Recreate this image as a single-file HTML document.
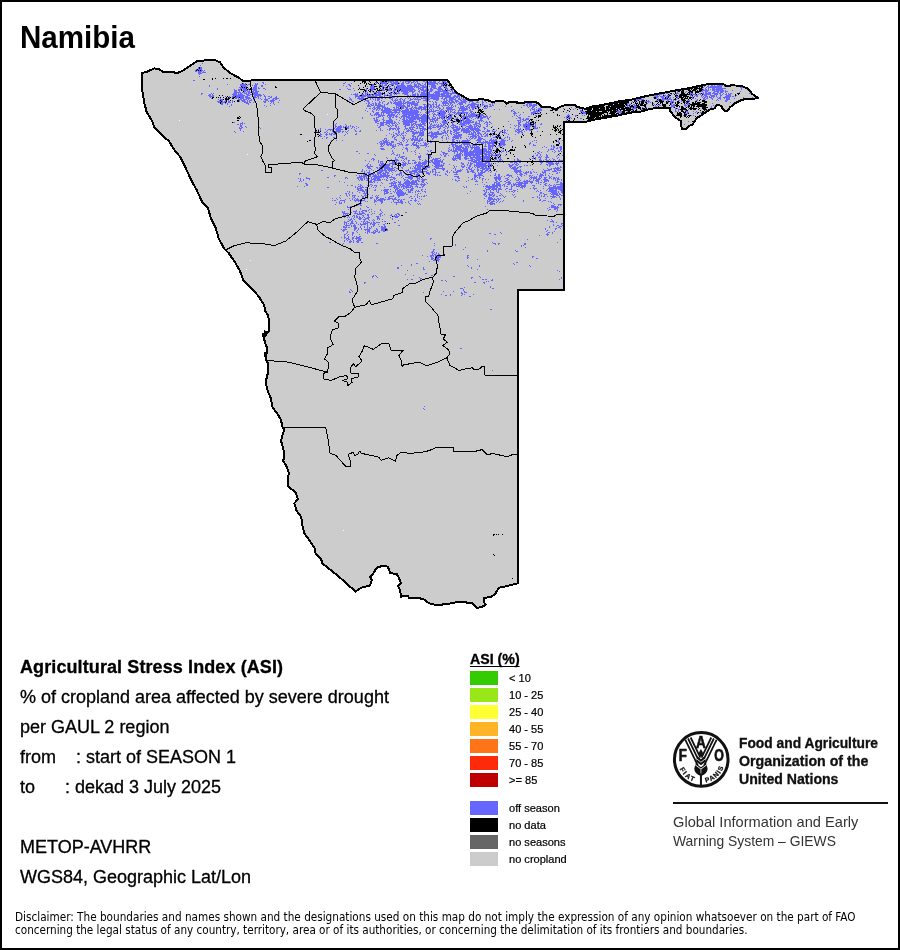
<!DOCTYPE html>
<html lang="en">
<head>
<meta charset="utf-8">
<title>Namibia - Agricultural Stress Index (ASI)</title>
<style>
html,body{margin:0;padding:0;background:#fff}
body{width:900px;height:950px;overflow:hidden;font-family:"Liberation Sans",Arial,sans-serif;color:#000}
#page{position:relative;width:900px;height:950px;box-sizing:border-box;border:2px solid #000;background:#fff;overflow:hidden}
#art{position:absolute;left:-2px;top:-2px;width:900px;height:950px}
.t{position:absolute;white-space:pre;line-height:1;transform-origin:0 0;margin:0;padding:0}
.t{margin-left:-2px;margin-top:-2px}
h1.t{font-size:30px;font-weight:bold;left:20px;top:21.7px;transform:scale(0.985,1.04)}
.info{font-size:18px;left:20px;-webkit-text-stroke:0.3px #000}
.b{font-weight:bold}
.lab{font-size:10.2px;transform:scaleX(1.085);-webkit-text-stroke:0.2px #000}
.lh{font-size:14.2px;font-weight:bold;text-decoration:underline;text-decoration-thickness:1px;text-underline-offset:1.6px;text-decoration-skip-ink:none;-webkit-text-stroke:0.3px #000;left:470px;top:652px}
.fao{font-size:15.15px;font-weight:bold;left:739.2px;color:#111;-webkit-text-stroke:0.35px #111}
.giews{font-size:15px;left:672.5px;color:#333;transform:scaleX(0.975)}
.disc{font-family:"DejaVu Sans Condensed","DejaVu Sans","Liberation Sans",sans-serif;font-stretch:condensed;font-size:11.8px;left:15px;color:#000;transform:scaleX(0.988)}
</style>
</head>
<body>
<div id="page">
<svg id="art" width="900" height="950" viewBox="0 0 900 950">
<g shape-rendering="crispEdges">
<path d="M141.6 73.3 L146.7 71.8 L154.4 68.4 L158.9 68.9 L163.3 72.2 L172.2 71.6 L176.7 73.3 L183.3 70.4 L191.1 65.1 L197.8 60.7 L207.8 60.4 L215.6 60.4 L220 62.2 L223.3 67.3 L230 72.9 L238.9 77.8 L243.3 81.1 L248.9 81.1 L254.4 79.6 L447 79.6 L450 83.5 L452.7 88 L456.7 92.7 L461.3 95.3 L465.3 97.7 L468.7 99.7 L478 99.7 L479.3 98.7 L481.3 99 L487.3 100 L491.3 101.7 L499.3 101.3 L503.3 101 L506.7 103.7 L510 101.7 L516.7 102 L517.3 103 L523.3 103.3 L526 101.7 L534.7 101.7 L538.7 103.7 L542 106.7 L549.3 107 L552.7 108 L556 109.7 L558 108 L562.7 105.7 L567.3 105 L570 105 L574.7 105 L576.7 106.7 L582 108.3 L586 108.7 L591.3 106.7 L600.7 105.3 L611.3 103 L620.7 101 L630 100 L646.7 96 L662 93 L676.7 90.3 L690 88 L698.3 86 L709.2 83.9 L723.3 83.9 L726.7 86.4 L731.7 85.2 L741.7 86 L748.3 88.9 L752.5 94.2 L757.3 97.2 L758.3 97.8 L753.3 99 L745 99 L740 100.7 L735 103.2 L730 107.3 L727.5 110.7 L724.2 110.7 L720.8 105.7 L716.7 104.8 L715 108.2 L709.2 109.8 L703.3 114 L696.7 118.2 L692.5 124.8 L690 125.5 L686 129 L681.7 129 L681 121.3 L674.3 116.6 L670.3 111 L669.7 108 L668 107.7 L658 107.7 L650 109 L640 111.7 L630 112.7 L618.7 115.3 L608 117.3 L602.7 118.3 L592 120 L586.7 121.7 L564 121.9 L564 290 L518.2 290 L518 583.3 L511.1 584.9 L504.4 586.7 L498.9 587.8 L495.6 593.3 L491.1 597.1 L484.4 597.8 L484 602.2 L485.6 604.9 L481.1 607.3 L476.7 607.8 L472.2 603.3 L464.4 602.2 L457.8 601.8 L451.1 603.3 L444.4 604.4 L435.6 604.9 L428.9 603.3 L424.4 599.6 L417.8 597.8 L408.9 597.8 L407.8 595.6 L401.1 596.7 L400 590 L397.8 585.6 L401.1 583.3 L398.9 577.8 L396.7 573.8 L390.4 573.3 L387.8 566.7 L383.3 565.6 L376.7 567.8 L373.3 573.3 L370 576.7 L371.8 580 L370 585.6 L361.1 587.8 L355.6 591.6 L338.9 576.7 L322.2 563.3 L321.1 558.9 L315.6 553.3 L314.4 547.8 L310 541.1 L304.4 533.3 L302.7 526.7 L301.1 516.7 L296.7 511.1 L294.4 503.3 L297.8 498.9 L295.6 492.2 L288.2 486.7 L287.8 478.9 L288.9 473.3 L286.7 466.7 L283.3 461.1 L284.4 453.3 L283.3 448.9 L281.1 441.1 L282.2 435.6 L284.4 430 L282.2 426.7 L281.1 420 L277.8 414.4 L272.2 406.7 L271.1 398.9 L267.8 391.1 L265.6 382.2 L267.8 373.3 L268 363.3 L266.3 360 L266 356 L267 352.7 L267 347.3 L266 346 L264 338.7 L264.5 335.5 L268.6 331.3 L269 320 L268 315.3 L264.7 310 L264.4 305.6 L258.9 296.7 L251.1 287.8 L243.3 280 L240 271.1 L235.6 263.3 L228.9 253.3 L224.4 248.9 L218.9 238.9 L215.6 227.8 L211.1 218.9 L207.8 207.8 L202.2 202.2 L196.7 190 L191.1 180 L185.6 167.8 L180 156.7 L174.4 150 L168.9 141.1 L161.1 134.4 L154.4 127.8 L152.2 121.1 L146.7 112.2 L144.4 103.3 L142.2 90Z" fill="#cccccc" stroke="none"/>
<path d="M202 63.5h1M200 65.5h1M198 67.5h1M200 67.5h2M198 68.5h1M200 68.5h2M196 69.5h1M198 69.5h4M195 70.5h1M197 70.5h1M199 70.5h1M201 70.5h2M204 70.5h1M195 71.5h2M198 71.5h4M203 71.5h1M198 72.5h3M202 72.5h4M198 73.5h4M199 74.5h1M199 76.5h1M377 79.5h1M383 79.5h3M389 79.5h1M400 79.5h1M407 79.5h1M446 79.5h1M193 80.5h2M364 80.5h1M367 80.5h1M377 80.5h1M381 80.5h6M388 80.5h2M391 80.5h1M394 80.5h2M400 80.5h1M406 80.5h1M408 80.5h1M413 80.5h1M416 80.5h3M425 80.5h4M432 80.5h1M447 80.5h1M380 81.5h2M384 81.5h1M387 81.5h7M395 81.5h3M400 81.5h1M403 81.5h1M405 81.5h6M413 81.5h2M416 81.5h2M423 81.5h2M426 81.5h2M429 81.5h3M433 81.5h3M439 81.5h1M442 81.5h4M250 82.5h1M262 82.5h2M345 82.5h1M375 82.5h2M380 82.5h7M388 82.5h1M390 82.5h2M393 82.5h6M402 82.5h2M405 82.5h1M408 82.5h2M411 82.5h3M415 82.5h1M417 82.5h1M425 82.5h11M438 82.5h1M442 82.5h1M444 82.5h4M243 83.5h1M245 83.5h1M250 83.5h1M255 83.5h1M257 83.5h1M263 83.5h1M343 83.5h2M351 83.5h1M376 83.5h1M381 83.5h6M391 83.5h7M399 83.5h1M401 83.5h3M406 83.5h3M411 83.5h1M414 83.5h1M417 83.5h3M422 83.5h1M425 83.5h1M428 83.5h10M439 83.5h4M444 83.5h1M446 83.5h1M450 83.5h1M712 83.5h1M227 84.5h1M240 84.5h6M248 84.5h3M255 84.5h3M265 84.5h1M348 84.5h2M372 84.5h2M379 84.5h2M382 84.5h1M385 84.5h2M389 84.5h5M395 84.5h3M401 84.5h3M410 84.5h1M414 84.5h3M418 84.5h3M424 84.5h2M428 84.5h7M437 84.5h1M441 84.5h3M445 84.5h1M447 84.5h1M705 84.5h2M708 84.5h5M717 84.5h2M720 84.5h1M209 85.5h1M240 85.5h6M247 85.5h1M252 85.5h1M254 85.5h3M261 85.5h2M343 85.5h1M349 85.5h2M372 85.5h2M379 85.5h1M381 85.5h2M384 85.5h3M391 85.5h1M393 85.5h1M397 85.5h8M407 85.5h5M414 85.5h3M418 85.5h1M420 85.5h4M425 85.5h1M431 85.5h5M441 85.5h2M444 85.5h1M450 85.5h2M704 85.5h1M708 85.5h1M711 85.5h2M714 85.5h1M717 85.5h6M209 86.5h1M242 86.5h5M254 86.5h3M261 86.5h2M346 86.5h1M350 86.5h1M367 86.5h1M370 86.5h4M382 86.5h2M388 86.5h3M394 86.5h1M396 86.5h10M407 86.5h13M422 86.5h5M429 86.5h1M431 86.5h5M439 86.5h3M443 86.5h1M445 86.5h2M449 86.5h1M704 86.5h1M707 86.5h2M710 86.5h12M724 86.5h1M239 87.5h3M243 87.5h1M245 87.5h1M253 87.5h4M258 87.5h1M359 87.5h1M370 87.5h5M382 87.5h1M384 87.5h2M389 87.5h1M394 87.5h1M397 87.5h16M414 87.5h1M416 87.5h3M420 87.5h7M431 87.5h5M438 87.5h3M445 87.5h2M703 87.5h1M706 87.5h1M708 87.5h14M740 87.5h5M217 88.5h1M240 88.5h6M248 88.5h1M251 88.5h1M253 88.5h4M258 88.5h2M263 88.5h2M347 88.5h1M353 88.5h1M366 88.5h1M370 88.5h5M382 88.5h1M385 88.5h3M389 88.5h1M391 88.5h2M394 88.5h20M418 88.5h3M422 88.5h2M426 88.5h1M430 88.5h2M433 88.5h4M438 88.5h4M445 88.5h3M451 88.5h2M702 88.5h1M705 88.5h1M708 88.5h1M712 88.5h3M716 88.5h10M741 88.5h1M217 89.5h1M234 89.5h1M238 89.5h3M243 89.5h4M248 89.5h1M252 89.5h5M265 89.5h1M339 89.5h2M348 89.5h3M366 89.5h1M369 89.5h1M371 89.5h3M381 89.5h3M388 89.5h3M394 89.5h1M396 89.5h4M401 89.5h14M418 89.5h1M420 89.5h4M425 89.5h4M430 89.5h3M437 89.5h6M447 89.5h1M450 89.5h1M452 89.5h2M703 89.5h1M705 89.5h2M708 89.5h1M710 89.5h1M712 89.5h11M741 89.5h1M234 90.5h3M238 90.5h2M242 90.5h6M249 90.5h1M253 90.5h4M354 90.5h1M366 90.5h1M371 90.5h2M382 90.5h3M386 90.5h1M388 90.5h4M393 90.5h3M398 90.5h1M400 90.5h13M414 90.5h2M419 90.5h1M421 90.5h8M430 90.5h3M438 90.5h3M442 90.5h4M447 90.5h3M451 90.5h2M454 90.5h1M681 90.5h1M702 90.5h7M712 90.5h3M716 90.5h8M725 90.5h1M732 90.5h1M234 91.5h3M239 91.5h1M244 91.5h2M247 91.5h3M251 91.5h3M255 91.5h4M366 91.5h1M372 91.5h1M378 91.5h2M393 91.5h2M398 91.5h2M401 91.5h7M409 91.5h6M418 91.5h2M423 91.5h5M429 91.5h3M435 91.5h13M450 91.5h1M452 91.5h1M454 91.5h1M671 91.5h3M677 91.5h1M686 91.5h1M701 91.5h2M705 91.5h3M714 91.5h5M720 91.5h4M725 91.5h3M740 91.5h1M234 92.5h7M242 92.5h3M246 92.5h1M248 92.5h3M252 92.5h6M363 92.5h1M365 92.5h1M367 92.5h1M370 92.5h1M373 92.5h8M382 92.5h1M388 92.5h1M390 92.5h1M392 92.5h1M395 92.5h2M398 92.5h1M403 92.5h6M412 92.5h2M419 92.5h1M421 92.5h4M426 92.5h4M434 92.5h6M443 92.5h6M452 92.5h4M667 92.5h3M677 92.5h1M685 92.5h1M690 92.5h1M703 92.5h1M705 92.5h2M708 92.5h3M713 92.5h2M717 92.5h2M720 92.5h3M725 92.5h1M739 92.5h1M201 93.5h2M211 93.5h1M213 93.5h1M233 93.5h4M238 93.5h1M240 93.5h2M244 93.5h3M248 93.5h2M252 93.5h6M355 93.5h1M357 93.5h1M365 93.5h3M376 93.5h1M378 93.5h4M390 93.5h2M393 93.5h2M396 93.5h4M402 93.5h6M412 93.5h1M415 93.5h1M417 93.5h1M421 93.5h9M433 93.5h1M435 93.5h5M441 93.5h18M666 93.5h2M673 93.5h1M676 93.5h3M690 93.5h3M699 93.5h2M702 93.5h2M705 93.5h6M712 93.5h6M719 93.5h2M723 93.5h1M726 93.5h1M728 93.5h1M730 93.5h2M749 93.5h2M201 94.5h1M209 94.5h2M212 94.5h1M232 94.5h5M238 94.5h5M246 94.5h3M250 94.5h2M253 94.5h8M263 94.5h1M351 94.5h1M353 94.5h5M361 94.5h3M365 94.5h1M368 94.5h1M370 94.5h2M373 94.5h9M384 94.5h1M387 94.5h1M390 94.5h2M394 94.5h1M396 94.5h1M404 94.5h4M412 94.5h4M417 94.5h2M420 94.5h25M446 94.5h3M450 94.5h2M457 94.5h1M459 94.5h1M657 94.5h5M663 94.5h1M669 94.5h1M671 94.5h1M676 94.5h1M679 94.5h1M690 94.5h1M692 94.5h4M698 94.5h1M700 94.5h1M703 94.5h8M714 94.5h4M720 94.5h1M722 94.5h1M725 94.5h2M728 94.5h3M208 95.5h3M212 95.5h2M233 95.5h12M247 95.5h3M252 95.5h1M254 95.5h8M264 95.5h1M355 95.5h3M359 95.5h1M362 95.5h9M372 95.5h2M375 95.5h6M384 95.5h3M388 95.5h4M407 95.5h2M410 95.5h1M412 95.5h4M417 95.5h2M420 95.5h20M441 95.5h10M454 95.5h2M457 95.5h5M652 95.5h1M654 95.5h4M659 95.5h1M664 95.5h2M667 95.5h2M690 95.5h2M695 95.5h3M701 95.5h2M704 95.5h3M710 95.5h5M716 95.5h1M720 95.5h2M726 95.5h5M736 95.5h1M209 96.5h5M225 96.5h1M229 96.5h1M232 96.5h3M236 96.5h8M245 96.5h3M252 96.5h4M257 96.5h2M260 96.5h1M264 96.5h2M268 96.5h2M271 96.5h1M276 96.5h1M355 96.5h11M367 96.5h10M379 96.5h4M384 96.5h1M389 96.5h4M394 96.5h1M404 96.5h4M415 96.5h6M422 96.5h29M453 96.5h7M463 96.5h1M654 96.5h5M660 96.5h5M666 96.5h2M669 96.5h1M676 96.5h3M690 96.5h1M692 96.5h1M694 96.5h1M696 96.5h2M701 96.5h1M703 96.5h1M705 96.5h3M709 96.5h1M711 96.5h4M716 96.5h1M720 96.5h1M725 96.5h6M732 96.5h2M735 96.5h1M210 97.5h1M229 97.5h1M232 97.5h1M235 97.5h4M240 97.5h4M245 97.5h5M254 97.5h3M258 97.5h1M265 97.5h1M270 97.5h2M275 97.5h2M349 97.5h1M355 97.5h1M358 97.5h2M361 97.5h3M367 97.5h1M370 97.5h4M375 97.5h5M383 97.5h2M387 97.5h4M392 97.5h3M397 97.5h1M407 97.5h1M409 97.5h1M414 97.5h1M416 97.5h6M423 97.5h7M431 97.5h8M442 97.5h1M445 97.5h10M456 97.5h2M459 97.5h1M461 97.5h1M463 97.5h3M653 97.5h1M656 97.5h2M661 97.5h3M666 97.5h2M670 97.5h1M673 97.5h1M677 97.5h1M692 97.5h1M702 97.5h1M704 97.5h2M707 97.5h1M709 97.5h3M713 97.5h1M717 97.5h1M719 97.5h2M723 97.5h7M743 97.5h1M752 97.5h1M211 98.5h1M220 98.5h1M227 98.5h1M235 98.5h2M238 98.5h1M240 98.5h4M246 98.5h5M253 98.5h2M258 98.5h1M260 98.5h1M265 98.5h1M268 98.5h2M273 98.5h6M350 98.5h1M357 98.5h9M370 98.5h1M372 98.5h1M375 98.5h1M377 98.5h3M381 98.5h2M385 98.5h1M389 98.5h2M392 98.5h1M396 98.5h1M400 98.5h2M405 98.5h1M408 98.5h1M410 98.5h1M413 98.5h1M415 98.5h1M417 98.5h1M421 98.5h8M430 98.5h9M441 98.5h2M444 98.5h3M449 98.5h5M455 98.5h1M458 98.5h2M461 98.5h1M463 98.5h1M465 98.5h1M638 98.5h1M640 98.5h2M656 98.5h1M658 98.5h1M662 98.5h3M666 98.5h1M669 98.5h2M677 98.5h1M692 98.5h2M695 98.5h1M703 98.5h2M706 98.5h2M711 98.5h2M718 98.5h3M724 98.5h1M726 98.5h4M734 98.5h1M751 98.5h1M218 99.5h1M220 99.5h3M238 99.5h4M243 99.5h4M248 99.5h1M251 99.5h1M253 99.5h2M261 99.5h1M264 99.5h4M272 99.5h2M275 99.5h2M349 99.5h3M359 99.5h4M364 99.5h1M370 99.5h1M373 99.5h1M375 99.5h1M377 99.5h3M391 99.5h2M395 99.5h1M397 99.5h1M399 99.5h2M402 99.5h1M404 99.5h1M410 99.5h3M414 99.5h7M425 99.5h5M433 99.5h6M443 99.5h2M446 99.5h1M449 99.5h7M458 99.5h3M462 99.5h5M470 99.5h1M475 99.5h1M478 99.5h2M635 99.5h9M658 99.5h1M661 99.5h11M673 99.5h1M676 99.5h1M697 99.5h1M703 99.5h3M712 99.5h1M717 99.5h1M720 99.5h1M726 99.5h4M219 100.5h1M221 100.5h2M225 100.5h1M228 100.5h1M232 100.5h1M239 100.5h1M241 100.5h4M247 100.5h1M249 100.5h3M265 100.5h3M270 100.5h5M279 100.5h1M351 100.5h1M365 100.5h4M375 100.5h1M377 100.5h2M381 100.5h1M392 100.5h1M394 100.5h4M400 100.5h1M403 100.5h2M409 100.5h2M418 100.5h1M423 100.5h6M436 100.5h2M444 100.5h1M446 100.5h2M449 100.5h4M455 100.5h3M460 100.5h2M463 100.5h3M467 100.5h2M471 100.5h1M473 100.5h1M482 100.5h1M487 100.5h1M631 100.5h1M636 100.5h2M641 100.5h1M648 100.5h1M656 100.5h3M662 100.5h2M667 100.5h2M671 100.5h1M673 100.5h1M675 100.5h1M678 100.5h2M681 100.5h1M687 100.5h3M696 100.5h2M716 100.5h1M718 100.5h1M725 100.5h3M217 101.5h4M222 101.5h1M224 101.5h2M228 101.5h2M232 101.5h1M239 101.5h1M242 101.5h4M247 101.5h1M249 101.5h1M254 101.5h2M263 101.5h3M268 101.5h1M270 101.5h4M349 101.5h1M352 101.5h2M358 101.5h1M364 101.5h1M367 101.5h2M372 101.5h1M379 101.5h1M383 101.5h2M390 101.5h1M393 101.5h1M395 101.5h1M398 101.5h4M403 101.5h2M407 101.5h2M412 101.5h3M416 101.5h1M418 101.5h1M426 101.5h2M429 101.5h2M432 101.5h1M435 101.5h1M441 101.5h1M443 101.5h4M448 101.5h2M451 101.5h3M455 101.5h4M461 101.5h6M469 101.5h4M477 101.5h1M482 101.5h1M485 101.5h1M632 101.5h1M635 101.5h1M640 101.5h1M644 101.5h6M667 101.5h1M670 101.5h4M681 101.5h1M689 101.5h1M725 101.5h2M218 102.5h2M221 102.5h4M226 102.5h1M228 102.5h3M232 102.5h1M244 102.5h4M249 102.5h2M253 102.5h1M264 102.5h2M271 102.5h1M273 102.5h1M278 102.5h1M349 102.5h1M368 102.5h2M375 102.5h1M379 102.5h2M382 102.5h1M388 102.5h1M390 102.5h2M394 102.5h8M403 102.5h1M405 102.5h10M417 102.5h2M427 102.5h1M433 102.5h1M435 102.5h2M442 102.5h6M449 102.5h6M456 102.5h1M459 102.5h7M469 102.5h1M472 102.5h2M476 102.5h3M482 102.5h2M486 102.5h1M526 102.5h1M530 102.5h7M631 102.5h1M637 102.5h1M648 102.5h1M650 102.5h1M668 102.5h1M670 102.5h2M673 102.5h1M685 102.5h2M688 102.5h1M730 102.5h1M221 103.5h2M225 103.5h1M227 103.5h1M246 103.5h3M270 103.5h1M273 103.5h1M351 103.5h1M366 103.5h1M368 103.5h2M372 103.5h2M375 103.5h2M378 103.5h2M382 103.5h1M387 103.5h2M391 103.5h1M393 103.5h13M407 103.5h11M427 103.5h2M433 103.5h1M436 103.5h1M442 103.5h7M450 103.5h2M454 103.5h1M458 103.5h5M465 103.5h1M471 103.5h5M482 103.5h1M492 103.5h1M494 103.5h1M527 103.5h5M536 103.5h2M627 103.5h2M640 103.5h1M647 103.5h1M653 103.5h1M671 103.5h2M687 103.5h2M712 103.5h1M221 104.5h2M227 104.5h1M231 104.5h1M248 104.5h1M274 104.5h1M368 104.5h1M370 104.5h2M373 104.5h1M375 104.5h2M378 104.5h3M384 104.5h1M386 104.5h2M395 104.5h7M403 104.5h1M407 104.5h1M409 104.5h1M411 104.5h7M423 104.5h3M428 104.5h3M432 104.5h2M435 104.5h2M439 104.5h1M443 104.5h1M445 104.5h1M448 104.5h1M450 104.5h1M452 104.5h1M457 104.5h1M459 104.5h4M468 104.5h11M482 104.5h2M489 104.5h2M492 104.5h1M526 104.5h2M529 104.5h3M533 104.5h4M627 104.5h1M629 104.5h2M633 104.5h2M639 104.5h1M646 104.5h1M654 104.5h1M659 104.5h1M671 104.5h1M673 104.5h2M684 104.5h2M687 104.5h3M231 105.5h1M264 105.5h1M270 105.5h1M367 105.5h3M371 105.5h3M375 105.5h8M384 105.5h1M396 105.5h9M407 105.5h3M411 105.5h1M414 105.5h4M424 105.5h1M426 105.5h1M428 105.5h1M430 105.5h2M433 105.5h1M436 105.5h1M438 105.5h2M441 105.5h1M443 105.5h5M449 105.5h1M451 105.5h2M455 105.5h1M460 105.5h1M463 105.5h1M467 105.5h2M470 105.5h5M477 105.5h2M480 105.5h1M482 105.5h1M484 105.5h4M490 105.5h1M492 105.5h2M523 105.5h2M526 105.5h2M529 105.5h8M570 105.5h1M627 105.5h2M634 105.5h2M652 105.5h1M655 105.5h1M657 105.5h1M659 105.5h2M671 105.5h4M684 105.5h3M713 105.5h1M229 106.5h1M266 106.5h1M367 106.5h4M374 106.5h1M377 106.5h8M396 106.5h1M398 106.5h8M407 106.5h3M412 106.5h1M415 106.5h1M419 106.5h3M424 106.5h5M430 106.5h2M433 106.5h2M436 106.5h3M442 106.5h1M448 106.5h1M451 106.5h1M453 106.5h1M455 106.5h1M460 106.5h4M465 106.5h3M469 106.5h1M471 106.5h6M478 106.5h1M480 106.5h1M485 106.5h3M489 106.5h3M505 106.5h1M511 106.5h1M527 106.5h1M529 106.5h2M532 106.5h3M541 106.5h2M576 106.5h1M625 106.5h1M627 106.5h1M629 106.5h1M634 106.5h3M655 106.5h2M671 106.5h4M685 106.5h1M687 106.5h1M711 106.5h1M714 106.5h1M373 107.5h2M376 107.5h4M382 107.5h4M387 107.5h1M393 107.5h2M396 107.5h3M401 107.5h3M405 107.5h3M411 107.5h2M414 107.5h3M418 107.5h10M429 107.5h3M433 107.5h1M435 107.5h2M438 107.5h2M443 107.5h1M446 107.5h7M458 107.5h1M460 107.5h5M466 107.5h1M468 107.5h2M471 107.5h5M477 107.5h1M479 107.5h1M483 107.5h1M485 107.5h1M487 107.5h1M521 107.5h1M528 107.5h1M532 107.5h2M536 107.5h1M540 107.5h2M560 107.5h1M571 107.5h1M629 107.5h1M631 107.5h2M634 107.5h2M642 107.5h1M646 107.5h1M654 107.5h2M664 107.5h3M671 107.5h1M673 107.5h1M679 107.5h1M711 107.5h1M366 108.5h1M369 108.5h2M372 108.5h1M374 108.5h2M377 108.5h4M382 108.5h1M384 108.5h6M394 108.5h1M396 108.5h1M398 108.5h2M401 108.5h3M406 108.5h2M409 108.5h3M413 108.5h1M415 108.5h7M423 108.5h3M427 108.5h1M429 108.5h1M432 108.5h1M437 108.5h1M439 108.5h2M443 108.5h1M446 108.5h6M459 108.5h9M469 108.5h1M472 108.5h2M476 108.5h1M484 108.5h3M531 108.5h2M534 108.5h1M538 108.5h3M563 108.5h1M575 108.5h1M587 108.5h1M632 108.5h5M645 108.5h1M653 108.5h1M670 108.5h1M675 108.5h1M677 108.5h1M373 109.5h2M376 109.5h2M379 109.5h1M381 109.5h2M384 109.5h8M393 109.5h7M401 109.5h1M405 109.5h4M410 109.5h3M414 109.5h1M416 109.5h1M418 109.5h2M421 109.5h6M428 109.5h1M430 109.5h2M433 109.5h1M439 109.5h1M441 109.5h2M447 109.5h8M459 109.5h1M461 109.5h7M470 109.5h1M472 109.5h2M478 109.5h1M494 109.5h1M499 109.5h1M513 109.5h1M530 109.5h1M532 109.5h3M536 109.5h1M538 109.5h4M556 109.5h1M573 109.5h1M633 109.5h1M641 109.5h2M670 109.5h1M675 109.5h1M678 109.5h2M688 109.5h1M365 110.5h1M372 110.5h1M376 110.5h1M378 110.5h1M381 110.5h10M392 110.5h9M402 110.5h7M410 110.5h8M421 110.5h1M425 110.5h1M427 110.5h1M429 110.5h1M431 110.5h1M433 110.5h1M435 110.5h4M440 110.5h2M443 110.5h1M445 110.5h4M450 110.5h1M452 110.5h1M455 110.5h1M458 110.5h8M469 110.5h2M511 110.5h2M530 110.5h1M534 110.5h1M536 110.5h2M539 110.5h3M555 110.5h1M557 110.5h1M568 110.5h1M580 110.5h2M616 110.5h1M618 110.5h1M632 110.5h1M675 110.5h1M678 110.5h1M685 110.5h1M367 111.5h1M372 111.5h2M382 111.5h10M394 111.5h3M399 111.5h1M401 111.5h18M426 111.5h10M439 111.5h6M448 111.5h1M450 111.5h2M454 111.5h1M458 111.5h1M462 111.5h2M470 111.5h3M511 111.5h1M513 111.5h2M533 111.5h7M580 111.5h4M617 111.5h5M627 111.5h1M633 111.5h1M675 111.5h2M678 111.5h1M686 111.5h2M693 111.5h1M696 111.5h1M373 112.5h1M376 112.5h3M381 112.5h19M402 112.5h17M420 112.5h1M425 112.5h5M433 112.5h1M437 112.5h9M448 112.5h1M450 112.5h1M452 112.5h4M457 112.5h11M470 112.5h2M473 112.5h1M514 112.5h2M518 112.5h1M523 112.5h1M531 112.5h5M537 112.5h1M566 112.5h1M582 112.5h4M617 112.5h5M687 112.5h2M695 112.5h1M697 112.5h1M700 112.5h2M704 112.5h1M370 113.5h1M375 113.5h4M381 113.5h1M383 113.5h1M386 113.5h4M391 113.5h2M395 113.5h1M398 113.5h1M402 113.5h16M426 113.5h1M428 113.5h1M432 113.5h1M434 113.5h1M438 113.5h1M440 113.5h6M449 113.5h1M454 113.5h1M456 113.5h5M462 113.5h3M466 113.5h2M469 113.5h1M471 113.5h4M513 113.5h4M531 113.5h4M537 113.5h1M539 113.5h2M580 113.5h2M583 113.5h3M620 113.5h1M685 113.5h3M693 113.5h1M370 114.5h1M374 114.5h6M381 114.5h1M383 114.5h1M388 114.5h7M397 114.5h1M399 114.5h1M403 114.5h17M421 114.5h1M423 114.5h3M429 114.5h1M433 114.5h3M437 114.5h8M448 114.5h5M455 114.5h2M458 114.5h2M466 114.5h1M468 114.5h1M470 114.5h9M480 114.5h3M514 114.5h1M520 114.5h1M531 114.5h1M568 114.5h1M703 114.5h1M371 115.5h2M374 115.5h1M376 115.5h1M378 115.5h7M387 115.5h8M396 115.5h1M402 115.5h5M408 115.5h6M415 115.5h4M420 115.5h1M422 115.5h7M433 115.5h1M436 115.5h1M438 115.5h7M446 115.5h1M449 115.5h1M451 115.5h1M461 115.5h1M463 115.5h2M466 115.5h1M468 115.5h8M477 115.5h2M480 115.5h4M486 115.5h1M514 115.5h1M516 115.5h1M519 115.5h1M535 115.5h2M567 115.5h3M575 115.5h2M582 115.5h1M584 115.5h1M683 115.5h1M686 115.5h1M691 115.5h1M693 115.5h1M378 116.5h3M382 116.5h1M387 116.5h1M389 116.5h3M393 116.5h1M395 116.5h3M401 116.5h9M411 116.5h8M421 116.5h8M433 116.5h2M439 116.5h1M441 116.5h6M449 116.5h3M461 116.5h17M480 116.5h2M483 116.5h5M490 116.5h1M512 116.5h1M517 116.5h1M528 116.5h2M566 116.5h2M569 116.5h1M575 116.5h1M362 117.5h1M376 117.5h3M383 117.5h1M388 117.5h3M392 117.5h2M396 117.5h1M399 117.5h1M401 117.5h1M403 117.5h2M406 117.5h24M432 117.5h1M435 117.5h1M437 117.5h1M439 117.5h5M446 117.5h1M448 117.5h5M455 117.5h1M457 117.5h1M463 117.5h2M466 117.5h2M469 117.5h2M472 117.5h1M476 117.5h2M479 117.5h7M487 117.5h1M489 117.5h1M518 117.5h3M564 117.5h1M566 117.5h1M568 117.5h3M362 118.5h1M373 118.5h2M376 118.5h1M383 118.5h1M389 118.5h2M400 118.5h1M403 118.5h2M406 118.5h1M408 118.5h22M432 118.5h4M437 118.5h3M441 118.5h4M446 118.5h1M448 118.5h4M456 118.5h2M460 118.5h1M462 118.5h2M466 118.5h3M471 118.5h1M475 118.5h1M477 118.5h2M480 118.5h3M487 118.5h2M516 118.5h1M519 118.5h2M523 118.5h1M526 118.5h3M566 118.5h1M568 118.5h1M571 118.5h1M580 118.5h2M374 119.5h1M376 119.5h2M382 119.5h2M389 119.5h3M396 119.5h1M402 119.5h3M406 119.5h2M409 119.5h7M417 119.5h3M421 119.5h6M429 119.5h6M436 119.5h2M442 119.5h1M444 119.5h1M447 119.5h3M454 119.5h2M460 119.5h1M462 119.5h3M466 119.5h4M473 119.5h1M480 119.5h2M488 119.5h1M520 119.5h1M522 119.5h2M525 119.5h4M569 119.5h1M374 120.5h4M379 120.5h1M383 120.5h2M386 120.5h7M399 120.5h1M403 120.5h11M419 120.5h9M430 120.5h1M432 120.5h1M434 120.5h4M443 120.5h2M447 120.5h1M450 120.5h1M460 120.5h1M462 120.5h2M465 120.5h7M478 120.5h5M517 120.5h4M523 120.5h3M536 120.5h1M566 120.5h1M375 121.5h4M383 121.5h1M386 121.5h7M394 121.5h1M402 121.5h15M419 121.5h1M421 121.5h7M430 121.5h4M435 121.5h1M442 121.5h5M452 121.5h1M455 121.5h2M460 121.5h2M463 121.5h8M472 121.5h2M476 121.5h1M479 121.5h1M481 121.5h1M483 121.5h1M486 121.5h1M489 121.5h1M508 121.5h1M518 121.5h1M520 121.5h1M522 121.5h1M526 121.5h1M528 121.5h2M563 121.5h1M579 121.5h1M688 121.5h1M233 122.5h2M242 122.5h1M375 122.5h2M380 122.5h13M394 122.5h2M398 122.5h1M403 122.5h10M415 122.5h2M421 122.5h4M426 122.5h1M429 122.5h1M433 122.5h1M435 122.5h1M437 122.5h1M442 122.5h5M452 122.5h2M459 122.5h3M463 122.5h11M475 122.5h2M479 122.5h1M485 122.5h3M489 122.5h2M518 122.5h3M526 122.5h3M240 123.5h3M244 123.5h1M336 123.5h1M377 123.5h2M380 123.5h4M386 123.5h4M391 123.5h4M396 123.5h1M399 123.5h1M403 123.5h7M411 123.5h1M413 123.5h3M420 123.5h1M422 123.5h4M429 123.5h1M431 123.5h1M440 123.5h1M443 123.5h5M452 123.5h1M460 123.5h10M475 123.5h5M484 123.5h1M487 123.5h1M491 123.5h1M518 123.5h2M525 123.5h2M528 123.5h2M531 123.5h1M534 123.5h2M541 123.5h1M237 124.5h2M240 124.5h1M242 124.5h1M335 124.5h1M345 124.5h1M380 124.5h4M385 124.5h2M389 124.5h1M392 124.5h1M395 124.5h1M397 124.5h1M403 124.5h7M411 124.5h3M415 124.5h10M430 124.5h2M434 124.5h1M436 124.5h1M438 124.5h1M441 124.5h1M443 124.5h2M452 124.5h2M459 124.5h6M466 124.5h1M468 124.5h1M470 124.5h1M473 124.5h4M479 124.5h2M486 124.5h2M489 124.5h1M510 124.5h1M518 124.5h3M523 124.5h7M535 124.5h1M540 124.5h2M684 124.5h1M692 124.5h1M240 125.5h2M333 125.5h1M335 125.5h1M340 125.5h1M346 125.5h1M350 125.5h1M377 125.5h1M380 125.5h4M387 125.5h2M390 125.5h1M392 125.5h2M395 125.5h2M405 125.5h5M411 125.5h2M414 125.5h1M416 125.5h1M418 125.5h4M424 125.5h2M430 125.5h1M432 125.5h4M437 125.5h2M440 125.5h4M445 125.5h1M448 125.5h1M451 125.5h5M461 125.5h5M469 125.5h3M474 125.5h1M476 125.5h3M480 125.5h1M487 125.5h1M514 125.5h1M516 125.5h1M518 125.5h1M520 125.5h1M523 125.5h11M535 125.5h1M240 126.5h2M245 126.5h1M335 126.5h2M338 126.5h4M343 126.5h1M345 126.5h2M348 126.5h1M350 126.5h1M352 126.5h2M356 126.5h1M379 126.5h2M388 126.5h2M391 126.5h1M395 126.5h2M398 126.5h1M404 126.5h2M411 126.5h1M413 126.5h1M416 126.5h2M419 126.5h5M429 126.5h3M433 126.5h1M436 126.5h7M445 126.5h2M448 126.5h1M450 126.5h1M453 126.5h1M455 126.5h3M459 126.5h1M462 126.5h1M466 126.5h7M474 126.5h3M478 126.5h3M486 126.5h2M492 126.5h1M515 126.5h1M518 126.5h2M523 126.5h3M527 126.5h4M534 126.5h2M239 127.5h1M241 127.5h2M246 127.5h1M259 127.5h1M335 127.5h1M337 127.5h5M343 127.5h2M346 127.5h3M352 127.5h1M354 127.5h1M358 127.5h1M378 127.5h2M390 127.5h1M396 127.5h1M398 127.5h1M405 127.5h1M409 127.5h6M417 127.5h1M419 127.5h1M422 127.5h2M428 127.5h3M432 127.5h4M437 127.5h2M440 127.5h1M443 127.5h2M447 127.5h2M451 127.5h7M459 127.5h1M462 127.5h1M465 127.5h1M468 127.5h5M474 127.5h2M477 127.5h1M479 127.5h1M483 127.5h2M510 127.5h1M518 127.5h1M524 127.5h6M533 127.5h3M537 127.5h1M539 127.5h1M239 128.5h3M260 128.5h1M320 128.5h1M334 128.5h1M336 128.5h5M347 128.5h2M351 128.5h1M356 128.5h1M380 128.5h1M389 128.5h7M397 128.5h3M405 128.5h3M409 128.5h2M412 128.5h1M416 128.5h2M419 128.5h7M427 128.5h5M439 128.5h2M445 128.5h1M447 128.5h1M452 128.5h2M456 128.5h5M462 128.5h3M466 128.5h13M484 128.5h2M514 128.5h1M518 128.5h1M520 128.5h1M525 128.5h5M534 128.5h4M240 129.5h1M318 129.5h1M320 129.5h1M325 129.5h1M328 129.5h5M335 129.5h8M354 129.5h1M380 129.5h1M387 129.5h1M389 129.5h2M392 129.5h2M395 129.5h1M397 129.5h2M404 129.5h1M406 129.5h1M408 129.5h1M410 129.5h4M420 129.5h1M422 129.5h6M430 129.5h1M438 129.5h2M444 129.5h1M453 129.5h7M461 129.5h8M470 129.5h10M484 129.5h1M487 129.5h1M494 129.5h1M504 129.5h1M516 129.5h5M525 129.5h6M240 130.5h1M320 130.5h1M327 130.5h1M330 130.5h1M332 130.5h1M336 130.5h5M348 130.5h1M355 130.5h1M360 130.5h1M376 130.5h1M380 130.5h1M382 130.5h1M389 130.5h1M396 130.5h1M398 130.5h1M407 130.5h3M411 130.5h1M414 130.5h2M420 130.5h3M424 130.5h1M443 130.5h2M447 130.5h2M450 130.5h1M453 130.5h6M461 130.5h9M471 130.5h3M475 130.5h6M487 130.5h3M492 130.5h1M496 130.5h1M504 130.5h2M507 130.5h1M515 130.5h1M517 130.5h3M521 130.5h2M526 130.5h1M529 130.5h3M234 131.5h1M243 131.5h1M316 131.5h1M326 131.5h1M332 131.5h1M335 131.5h6M342 131.5h2M345 131.5h1M347 131.5h1M355 131.5h2M359 131.5h2M398 131.5h2M403 131.5h1M406 131.5h3M410 131.5h4M416 131.5h1M418 131.5h1M420 131.5h1M422 131.5h2M427 131.5h1M431 131.5h1M437 131.5h2M441 131.5h1M444 131.5h2M447 131.5h1M450 131.5h2M454 131.5h3M461 131.5h1M463 131.5h8M473 131.5h2M476 131.5h3M482 131.5h3M486 131.5h4M492 131.5h4M500 131.5h3M504 131.5h1M515 131.5h2M518 131.5h4M524 131.5h1M537 131.5h1M235 132.5h1M324 132.5h2M327 132.5h1M333 132.5h1M335 132.5h2M338 132.5h2M342 132.5h1M346 132.5h1M393 132.5h1M398 132.5h2M403 132.5h1M405 132.5h1M412 132.5h12M429 132.5h4M434 132.5h5M442 132.5h4M447 132.5h1M450 132.5h1M453 132.5h2M456 132.5h4M463 132.5h7M471 132.5h1M473 132.5h3M477 132.5h3M485 132.5h1M499 132.5h2M503 132.5h3M517 132.5h3M521 132.5h2M320 133.5h1M326 133.5h1M329 133.5h1M331 133.5h2M334 133.5h1M347 133.5h1M356 133.5h1M389 133.5h1M395 133.5h2M398 133.5h1M401 133.5h3M406 133.5h1M412 133.5h6M419 133.5h5M428 133.5h2M431 133.5h13M445 133.5h2M450 133.5h2M455 133.5h4M466 133.5h1M469 133.5h1M471 133.5h3M475 133.5h1M477 133.5h4M484 133.5h2M487 133.5h1M491 133.5h2M504 133.5h1M506 133.5h1M518 133.5h1M522 133.5h1M320 134.5h2M325 134.5h3M329 134.5h3M333 134.5h3M345 134.5h1M355 134.5h2M391 134.5h1M393 134.5h1M396 134.5h2M399 134.5h1M401 134.5h1M413 134.5h2M419 134.5h5M431 134.5h11M447 134.5h1M451 134.5h1M453 134.5h2M456 134.5h1M458 134.5h4M468 134.5h6M475 134.5h2M478 134.5h1M480 134.5h2M483 134.5h1M486 134.5h2M495 134.5h1M499 134.5h1M502 134.5h1M508 134.5h1M515 134.5h1M320 135.5h1M326 135.5h1M331 135.5h1M344 135.5h1M386 135.5h1M393 135.5h2M397 135.5h2M400 135.5h1M402 135.5h2M405 135.5h1M412 135.5h2M418 135.5h6M428 135.5h6M435 135.5h2M443 135.5h1M445 135.5h1M447 135.5h1M454 135.5h8M472 135.5h4M477 135.5h2M481 135.5h1M485 135.5h3M490 135.5h1M492 135.5h1M320 136.5h2M324 136.5h1M392 136.5h2M396 136.5h1M403 136.5h1M412 136.5h4M417 136.5h2M421 136.5h1M430 136.5h8M442 136.5h1M448 136.5h1M453 136.5h8M468 136.5h1M470 136.5h7M478 136.5h2M481 136.5h2M484 136.5h2M487 136.5h1M490 136.5h1M495 136.5h1M497 136.5h1M499 136.5h2M507 136.5h1M326 137.5h2M333 137.5h2M392 137.5h1M394 137.5h2M401 137.5h1M403 137.5h2M413 137.5h1M415 137.5h1M417 137.5h1M420 137.5h1M431 137.5h1M433 137.5h4M441 137.5h2M446 137.5h1M452 137.5h7M460 137.5h2M470 137.5h1M472 137.5h2M475 137.5h2M478 137.5h3M493 137.5h3M498 137.5h1M505 137.5h1M507 137.5h1M509 137.5h1M322 138.5h1M326 138.5h1M384 138.5h3M394 138.5h1M402 138.5h3M410 138.5h1M412 138.5h2M415 138.5h3M419 138.5h2M422 138.5h1M432 138.5h2M442 138.5h1M446 138.5h1M448 138.5h1M453 138.5h1M455 138.5h4M460 138.5h1M466 138.5h1M469 138.5h1M471 138.5h2M474 138.5h2M478 138.5h5M491 138.5h1M501 138.5h1M504 138.5h1M509 138.5h1M558 138.5h1M384 139.5h1M386 139.5h1M394 139.5h3M403 139.5h1M406 139.5h1M408 139.5h1M411 139.5h7M419 139.5h1M421 139.5h2M432 139.5h1M446 139.5h1M452 139.5h3M467 139.5h1M470 139.5h1M477 139.5h5M483 139.5h2M490 139.5h2M493 139.5h1M495 139.5h2M501 139.5h3M509 139.5h1M331 140.5h1M336 140.5h1M342 140.5h1M382 140.5h2M385 140.5h2M388 140.5h1M396 140.5h1M402 140.5h1M404 140.5h1M407 140.5h1M411 140.5h2M414 140.5h9M425 140.5h1M428 140.5h1M430 140.5h1M442 140.5h1M452 140.5h2M456 140.5h2M459 140.5h1M462 140.5h8M476 140.5h5M485 140.5h1M489 140.5h8M501 140.5h5M507 140.5h1M512 140.5h1M534 140.5h1M536 140.5h1M558 140.5h1M562 140.5h1M380 141.5h2M383 141.5h5M391 141.5h3M399 141.5h1M403 141.5h1M407 141.5h1M414 141.5h1M418 141.5h2M429 141.5h1M447 141.5h1M452 141.5h3M457 141.5h1M459 141.5h1M461 141.5h8M478 141.5h3M483 141.5h1M485 141.5h3M489 141.5h1M491 141.5h5M497 141.5h1M499 141.5h6M511 141.5h1M532 141.5h1M557 141.5h2M379 142.5h1M381 142.5h1M383 142.5h7M391 142.5h3M400 142.5h2M406 142.5h1M413 142.5h2M416 142.5h2M423 142.5h1M425 142.5h1M427 142.5h1M430 142.5h2M447 142.5h1M450 142.5h5M456 142.5h2M459 142.5h2M462 142.5h3M467 142.5h3M478 142.5h16M497 142.5h1M500 142.5h5M530 142.5h1M536 142.5h1M558 142.5h2M377 143.5h1M380 143.5h5M386 143.5h2M389 143.5h3M397 143.5h3M401 143.5h1M412 143.5h2M416 143.5h1M418 143.5h1M420 143.5h1M424 143.5h3M428 143.5h1M451 143.5h2M455 143.5h3M459 143.5h1M462 143.5h8M475 143.5h2M481 143.5h3M485 143.5h1M487 143.5h8M498 143.5h1M500 143.5h5M529 143.5h2M380 144.5h3M384 144.5h1M386 144.5h6M393 144.5h1M395 144.5h1M399 144.5h4M406 144.5h3M412 144.5h5M424 144.5h4M451 144.5h5M461 144.5h1M463 144.5h7M472 144.5h1M477 144.5h2M485 144.5h1M488 144.5h2M492 144.5h2M500 144.5h6M529 144.5h1M533 144.5h1M381 145.5h1M383 145.5h1M387 145.5h2M390 145.5h4M395 145.5h1M398 145.5h1M402 145.5h1M405 145.5h3M411 145.5h1M413 145.5h6M420 145.5h7M449 145.5h1M452 145.5h2M455 145.5h3M459 145.5h3M464 145.5h1M467 145.5h1M469 145.5h2M472 145.5h5M479 145.5h1M485 145.5h1M488 145.5h6M495 145.5h1M498 145.5h4M503 145.5h2M533 145.5h3M551 145.5h1M553 145.5h1M380 146.5h3M392 146.5h4M416 146.5h3M426 146.5h1M428 146.5h1M452 146.5h2M455 146.5h7M465 146.5h4M470 146.5h1M472 146.5h1M474 146.5h1M476 146.5h3M484 146.5h3M488 146.5h6M499 146.5h2M502 146.5h1M544 146.5h1M551 146.5h1M553 146.5h2M560 146.5h2M392 147.5h2M403 147.5h1M406 147.5h1M417 147.5h3M425 147.5h1M449 147.5h1M453 147.5h2M456 147.5h8M465 147.5h2M468 147.5h1M470 147.5h10M488 147.5h3M492 147.5h1M496 147.5h1M542 147.5h1M546 147.5h1M553 147.5h2M557 147.5h1M559 147.5h3M563 147.5h1M380 148.5h4M391 148.5h1M394 148.5h1M405 148.5h3M416 148.5h1M418 148.5h1M448 148.5h1M453 148.5h1M455 148.5h6M462 148.5h6M471 148.5h2M474 148.5h6M482 148.5h4M488 148.5h3M492 148.5h1M496 148.5h1M502 148.5h1M551 148.5h1M553 148.5h1M556 148.5h2M560 148.5h2M563 148.5h1M381 149.5h4M402 149.5h1M406 149.5h2M449 149.5h1M451 149.5h1M453 149.5h1M455 149.5h7M463 149.5h5M471 149.5h1M474 149.5h13M488 149.5h4M548 149.5h1M550 149.5h4M560 149.5h2M563 149.5h1M392 150.5h1M407 150.5h1M415 150.5h1M427 150.5h1M430 150.5h2M448 150.5h1M450 150.5h2M453 150.5h4M458 150.5h10M470 150.5h1M473 150.5h14M488 150.5h1M490 150.5h2M494 150.5h2M501 150.5h1M503 150.5h1M548 150.5h1M554 150.5h1M558 150.5h1M560 150.5h1M563 150.5h1M356 151.5h2M392 151.5h1M407 151.5h1M411 151.5h1M414 151.5h1M428 151.5h1M430 151.5h1M441 151.5h1M448 151.5h2M452 151.5h6M460 151.5h8M469 151.5h23M502 151.5h2M506 151.5h1M509 151.5h1M539 151.5h1M547 151.5h1M552 151.5h1M555 151.5h1M558 151.5h2M561 151.5h1M393 152.5h1M403 152.5h1M415 152.5h1M442 152.5h3M454 152.5h1M457 152.5h1M460 152.5h1M462 152.5h1M464 152.5h21M486 152.5h5M492 152.5h1M499 152.5h1M501 152.5h1M506 152.5h1M537 152.5h2M541 152.5h1M554 152.5h1M359 153.5h1M367 153.5h2M392 153.5h2M403 153.5h1M419 153.5h1M427 153.5h1M443 153.5h5M454 153.5h1M457 153.5h1M459 153.5h3M464 153.5h10M475 153.5h12M488 153.5h4M493 153.5h1M499 153.5h1M535 153.5h1M538 153.5h2M559 153.5h1M374 154.5h1M391 154.5h1M394 154.5h1M397 154.5h1M399 154.5h1M415 154.5h1M426 154.5h3M430 154.5h1M440 154.5h1M443 154.5h1M445 154.5h2M456 154.5h5M462 154.5h1M464 154.5h19M484 154.5h6M491 154.5h2M495 154.5h6M537 154.5h1M540 154.5h1M546 154.5h1M375 155.5h1M396 155.5h2M399 155.5h1M420 155.5h1M429 155.5h2M441 155.5h1M444 155.5h2M448 155.5h1M454 155.5h7M462 155.5h1M464 155.5h16M482 155.5h2M485 155.5h2M488 155.5h8M497 155.5h2M505 155.5h1M533 155.5h1M536 155.5h2M540 155.5h1M546 155.5h2M557 155.5h1M559 155.5h1M562 155.5h3M399 156.5h1M401 156.5h4M418 156.5h3M428 156.5h3M444 156.5h2M453 156.5h1M455 156.5h6M465 156.5h3M469 156.5h2M473 156.5h2M476 156.5h14M495 156.5h1M497 156.5h1M500 156.5h1M533 156.5h1M539 156.5h1M541 156.5h1M546 156.5h2M556 156.5h1M563 156.5h1M386 157.5h1M395 157.5h1M398 157.5h1M400 157.5h3M406 157.5h1M418 157.5h3M428 157.5h2M431 157.5h1M440 157.5h1M453 157.5h1M455 157.5h1M457 157.5h4M464 157.5h3M470 157.5h11M483 157.5h7M494 157.5h1M496 157.5h1M499 157.5h2M533 157.5h1M535 157.5h1M538 157.5h3M545 157.5h4M558 157.5h1M563 157.5h1M372 158.5h2M387 158.5h1M395 158.5h1M402 158.5h2M405 158.5h2M419 158.5h1M429 158.5h1M433 158.5h1M435 158.5h5M452 158.5h9M464 158.5h5M470 158.5h3M475 158.5h16M496 158.5h1M498 158.5h1M500 158.5h1M517 158.5h1M529 158.5h1M532 158.5h2M535 158.5h1M540 158.5h1M546 158.5h1M552 158.5h1M557 158.5h1M371 159.5h1M373 159.5h2M391 159.5h1M395 159.5h3M404 159.5h1M406 159.5h1M419 159.5h2M425 159.5h1M432 159.5h6M440 159.5h1M443 159.5h1M452 159.5h4M459 159.5h2M465 159.5h2M471 159.5h4M476 159.5h9M486 159.5h4M495 159.5h2M499 159.5h3M514 159.5h1M517 159.5h2M535 159.5h1M539 159.5h2M545 159.5h2M549 159.5h1M553 159.5h2M559 159.5h1M564 159.5h1M365 160.5h1M373 160.5h1M378 160.5h1M389 160.5h1M392 160.5h7M401 160.5h1M403 160.5h1M408 160.5h2M412 160.5h3M422 160.5h1M425 160.5h2M430 160.5h3M434 160.5h7M442 160.5h1M453 160.5h2M456 160.5h1M468 160.5h5M474 160.5h6M481 160.5h9M494 160.5h1M497 160.5h1M499 160.5h2M502 160.5h1M514 160.5h1M517 160.5h4M539 160.5h3M543 160.5h1M546 160.5h3M550 160.5h1M553 160.5h1M555 160.5h1M558 160.5h7M369 161.5h1M378 161.5h1M380 161.5h3M389 161.5h1M392 161.5h2M396 161.5h1M404 161.5h1M408 161.5h1M415 161.5h1M419 161.5h1M424 161.5h6M431 161.5h2M434 161.5h9M471 161.5h6M478 161.5h12M492 161.5h1M494 161.5h2M497 161.5h3M511 161.5h2M516 161.5h4M540 161.5h3M545 161.5h1M547 161.5h1M550 161.5h5M556 161.5h1M558 161.5h2M563 161.5h2M378 162.5h1M380 162.5h1M382 162.5h1M392 162.5h5M398 162.5h2M402 162.5h2M405 162.5h1M408 162.5h1M414 162.5h3M418 162.5h3M422 162.5h5M429 162.5h2M432 162.5h8M441 162.5h2M461 162.5h1M468 162.5h1M470 162.5h1M473 162.5h10M485 162.5h5M498 162.5h1M503 162.5h1M510 162.5h3M514 162.5h3M519 162.5h2M540 162.5h3M546 162.5h7M556 162.5h1M558 162.5h1M368 163.5h1M380 163.5h4M389 163.5h10M400 163.5h1M403 163.5h4M408 163.5h3M412 163.5h1M414 163.5h2M418 163.5h9M433 163.5h7M443 163.5h2M461 163.5h3M468 163.5h1M470 163.5h3M476 163.5h11M488 163.5h2M491 163.5h1M495 163.5h1M514 163.5h1M516 163.5h2M541 163.5h1M548 163.5h6M555 163.5h4M562 163.5h1M367 164.5h1M370 164.5h1M379 164.5h1M381 164.5h9M392 164.5h3M401 164.5h5M407 164.5h1M416 164.5h5M422 164.5h4M434 164.5h6M441 164.5h1M443 164.5h1M449 164.5h1M462 164.5h2M467 164.5h1M470 164.5h2M474 164.5h1M476 164.5h10M488 164.5h4M508 164.5h2M512 164.5h2M515 164.5h2M518 164.5h1M540 164.5h1M546 164.5h2M549 164.5h5M556 164.5h2M366 165.5h2M370 165.5h1M379 165.5h11M392 165.5h1M402 165.5h4M415 165.5h8M424 165.5h1M426 165.5h3M432 165.5h1M435 165.5h9M453 165.5h1M461 165.5h1M464 165.5h1M467 165.5h1M469 165.5h2M474 165.5h16M491 165.5h1M497 165.5h1M509 165.5h4M516 165.5h2M524 165.5h1M526 165.5h2M530 165.5h1M547 165.5h1M549 165.5h2M557 165.5h1M365 166.5h1M367 166.5h6M380 166.5h9M391 166.5h2M400 166.5h1M403 166.5h1M413 166.5h1M415 166.5h1M417 166.5h13M434 166.5h9M454 166.5h1M456 166.5h1M461 166.5h4M469 166.5h2M474 166.5h1M476 166.5h11M489 166.5h3M509 166.5h3M514 166.5h2M519 166.5h3M549 166.5h1M560 166.5h1M367 167.5h3M376 167.5h2M379 167.5h11M392 167.5h1M394 167.5h2M401 167.5h2M410 167.5h1M414 167.5h2M417 167.5h4M422 167.5h8M435 167.5h4M442 167.5h1M454 167.5h1M462 167.5h2M466 167.5h1M468 167.5h2M472 167.5h1M475 167.5h1M477 167.5h3M481 167.5h3M485 167.5h2M488 167.5h2M510 167.5h1M512 167.5h4M517 167.5h2M520 167.5h1M555 167.5h1M557 167.5h2M560 167.5h2M368 168.5h3M377 168.5h1M379 168.5h1M381 168.5h2M384 168.5h10M396 168.5h2M402 168.5h1M410 168.5h1M412 168.5h1M414 168.5h7M422 168.5h5M434 168.5h1M436 168.5h9M453 168.5h1M455 168.5h1M468 168.5h2M471 168.5h1M477 168.5h1M480 168.5h11M511 168.5h7M547 168.5h1M551 168.5h1M553 168.5h7M362 169.5h1M371 169.5h1M378 169.5h5M384 169.5h2M387 169.5h6M394 169.5h1M408 169.5h1M415 169.5h12M432 169.5h4M442 169.5h3M455 169.5h1M460 169.5h1M462 169.5h1M466 169.5h2M469 169.5h3M474 169.5h1M477 169.5h2M482 169.5h3M486 169.5h3M490 169.5h1M513 169.5h4M520 169.5h1M532 169.5h1M543 169.5h1M548 169.5h4M554 169.5h1M556 169.5h3M560 169.5h1M563 169.5h1M321 170.5h2M362 170.5h1M366 170.5h1M369 170.5h1M373 170.5h1M377 170.5h10M388 170.5h7M396 170.5h1M402 170.5h1M405 170.5h4M412 170.5h6M419 170.5h2M427 170.5h1M432 170.5h1M435 170.5h1M443 170.5h1M447 170.5h1M451 170.5h1M455 170.5h1M457 170.5h5M467 170.5h1M471 170.5h3M477 170.5h2M480 170.5h3M485 170.5h3M489 170.5h1M493 170.5h1M514 170.5h7M544 170.5h6M554 170.5h2M557 170.5h4M361 171.5h2M364 171.5h1M369 171.5h1M377 171.5h1M379 171.5h4M385 171.5h2M389 171.5h1M391 171.5h1M395 171.5h1M400 171.5h1M406 171.5h1M409 171.5h8M418 171.5h4M423 171.5h4M430 171.5h1M432 171.5h2M435 171.5h1M446 171.5h2M453 171.5h1M456 171.5h5M467 171.5h2M470 171.5h4M477 171.5h1M481 171.5h2M484 171.5h2M488 171.5h1M491 171.5h1M496 171.5h1M514 171.5h8M526 171.5h1M528 171.5h1M530 171.5h1M533 171.5h1M542 171.5h1M544 171.5h2M552 171.5h5M364 172.5h1M367 172.5h3M377 172.5h5M383 172.5h1M385 172.5h4M392 172.5h1M400 172.5h2M403 172.5h2M407 172.5h1M409 172.5h3M414 172.5h4M419 172.5h3M423 172.5h1M426 172.5h3M430 172.5h1M432 172.5h1M435 172.5h2M438 172.5h2M447 172.5h1M449 172.5h1M453 172.5h5M467 172.5h2M472 172.5h3M478 172.5h1M480 172.5h5M490 172.5h1M515 172.5h3M519 172.5h2M523 172.5h1M525 172.5h4M530 172.5h2M534 172.5h1M536 172.5h1M542 172.5h4M557 172.5h1M559 172.5h1M299 173.5h2M363 173.5h1M365 173.5h2M368 173.5h3M373 173.5h2M377 173.5h4M382 173.5h4M387 173.5h2M399 173.5h3M404 173.5h1M406 173.5h1M410 173.5h5M417 173.5h2M422 173.5h2M426 173.5h4M435 173.5h1M445 173.5h1M456 173.5h1M475 173.5h1M478 173.5h5M495 173.5h1M516 173.5h1M520 173.5h2M524 173.5h3M530 173.5h2M540 173.5h1M543 173.5h1M545 173.5h1M549 173.5h1M556 173.5h2M299 174.5h1M363 174.5h4M368 174.5h6M375 174.5h1M377 174.5h2M380 174.5h2M383 174.5h3M387 174.5h1M392 174.5h1M396 174.5h4M401 174.5h1M405 174.5h2M410 174.5h2M414 174.5h1M416 174.5h4M428 174.5h2M433 174.5h3M437 174.5h1M445 174.5h2M454 174.5h4M474 174.5h2M478 174.5h4M495 174.5h1M498 174.5h2M507 174.5h2M517 174.5h1M519 174.5h4M526 174.5h1M537 174.5h1M540 174.5h3M545 174.5h1M552 174.5h1M334 175.5h2M356 175.5h1M359 175.5h1M361 175.5h1M363 175.5h5M369 175.5h2M373 175.5h4M378 175.5h1M380 175.5h10M396 175.5h1M399 175.5h1M401 175.5h1M403 175.5h1M407 175.5h2M410 175.5h2M416 175.5h2M435 175.5h1M437 175.5h1M439 175.5h2M447 175.5h1M474 175.5h9M490 175.5h1M494 175.5h2M498 175.5h2M506 175.5h6M520 175.5h2M524 175.5h1M529 175.5h2M532 175.5h1M539 175.5h5M545 175.5h1M548 175.5h1M334 176.5h1M359 176.5h8M368 176.5h3M372 176.5h17M391 176.5h1M402 176.5h1M408 176.5h5M414 176.5h1M417 176.5h3M454 176.5h5M474 176.5h3M479 176.5h1M483 176.5h1M496 176.5h1M498 176.5h2M501 176.5h1M504 176.5h1M509 176.5h1M511 176.5h1M517 176.5h1M521 176.5h1M529 176.5h1M531 176.5h1M534 176.5h1M536 176.5h1M539 176.5h3M549 176.5h1M551 176.5h1M563 176.5h1M306 177.5h1M327 177.5h2M345 177.5h2M357 177.5h5M363 177.5h2M366 177.5h1M368 177.5h1M371 177.5h1M374 177.5h8M383 177.5h1M386 177.5h2M389 177.5h6M401 177.5h1M405 177.5h8M416 177.5h2M419 177.5h1M457 177.5h2M468 177.5h1M474 177.5h2M477 177.5h1M479 177.5h2M494 177.5h7M508 177.5h1M512 177.5h1M518 177.5h1M530 177.5h7M539 177.5h1M541 177.5h1M544 177.5h3M549 177.5h2M553 177.5h2M556 177.5h1M558 177.5h1M563 177.5h1M298 178.5h1M300 178.5h1M306 178.5h4M345 178.5h1M347 178.5h1M357 178.5h2M360 178.5h3M364 178.5h1M366 178.5h4M371 178.5h1M373 178.5h7M387 178.5h1M393 178.5h3M403 178.5h1M408 178.5h5M417 178.5h3M422 178.5h1M458 178.5h2M472 178.5h1M474 178.5h1M479 178.5h1M482 178.5h2M494 178.5h7M505 178.5h3M516 178.5h1M518 178.5h2M529 178.5h1M531 178.5h1M533 178.5h4M538 178.5h3M544 178.5h2M549 178.5h1M551 178.5h1M553 178.5h3M557 178.5h2M300 179.5h1M303 179.5h1M309 179.5h1M358 179.5h1M360 179.5h3M364 179.5h1M367 179.5h2M371 179.5h5M377 179.5h4M382 179.5h1M384 179.5h1M386 179.5h1M390 179.5h3M394 179.5h1M404 179.5h2M407 179.5h1M410 179.5h2M417 179.5h1M419 179.5h1M421 179.5h6M452 179.5h1M455 179.5h1M471 179.5h2M474 179.5h2M482 179.5h1M485 179.5h1M488 179.5h1M495 179.5h2M498 179.5h3M507 179.5h2M515 179.5h1M518 179.5h2M530 179.5h1M533 179.5h1M536 179.5h4M543 179.5h5M553 179.5h1M555 179.5h1M557 179.5h3M561 179.5h1M300 180.5h1M303 180.5h1M359 180.5h1M361 180.5h2M366 180.5h3M370 180.5h2M374 180.5h7M386 180.5h2M390 180.5h1M396 180.5h1M404 180.5h1M406 180.5h3M412 180.5h2M415 180.5h4M422 180.5h3M455 180.5h2M458 180.5h2M468 180.5h1M476 180.5h1M482 180.5h1M495 180.5h2M499 180.5h1M506 180.5h2M510 180.5h1M516 180.5h3M520 180.5h1M524 180.5h1M526 180.5h2M529 180.5h1M533 180.5h1M535 180.5h4M541 180.5h1M544 180.5h5M555 180.5h1M557 180.5h1M561 180.5h1M299 181.5h1M301 181.5h1M339 181.5h1M369 181.5h3M373 181.5h2M393 181.5h2M398 181.5h1M400 181.5h1M405 181.5h5M411 181.5h6M418 181.5h2M421 181.5h3M457 181.5h1M466 181.5h1M475 181.5h3M496 181.5h2M500 181.5h2M504 181.5h2M508 181.5h2M519 181.5h1M523 181.5h10M536 181.5h3M544 181.5h3M548 181.5h1M557 181.5h2M344 182.5h1M369 182.5h4M374 182.5h1M377 182.5h1M381 182.5h1M391 182.5h2M394 182.5h3M398 182.5h3M404 182.5h13M422 182.5h2M426 182.5h1M482 182.5h1M486 182.5h1M494 182.5h3M498 182.5h2M506 182.5h5M516 182.5h7M524 182.5h4M530 182.5h3M538 182.5h1M540 182.5h2M543 182.5h2M556 182.5h2M560 182.5h2M564 182.5h1M305 183.5h2M382 183.5h1M389 183.5h7M399 183.5h2M403 183.5h12M416 183.5h2M421 183.5h1M424 183.5h1M427 183.5h1M494 183.5h1M496 183.5h4M505 183.5h1M508 183.5h3M513 183.5h1M515 183.5h1M518 183.5h10M531 183.5h1M536 183.5h1M538 183.5h1M545 183.5h2M560 183.5h3M306 184.5h2M358 184.5h1M360 184.5h1M370 184.5h2M391 184.5h1M393 184.5h1M395 184.5h1M398 184.5h6M405 184.5h5M411 184.5h8M420 184.5h6M475 184.5h1M477 184.5h1M484 184.5h1M492 184.5h3M496 184.5h5M503 184.5h2M507 184.5h3M511 184.5h1M513 184.5h9M524 184.5h2M540 184.5h1M544 184.5h2M549 184.5h1M554 184.5h1M556 184.5h7M306 185.5h2M347 185.5h1M351 185.5h2M360 185.5h2M367 185.5h3M372 185.5h1M374 185.5h3M380 185.5h1M391 185.5h6M398 185.5h1M400 185.5h1M402 185.5h3M406 185.5h6M416 185.5h1M421 185.5h1M423 185.5h2M486 185.5h2M489 185.5h1M492 185.5h9M502 185.5h1M504 185.5h1M511 185.5h1M513 185.5h2M516 185.5h1M518 185.5h8M532 185.5h3M545 185.5h2M548 185.5h1M550 185.5h2M553 185.5h1M555 185.5h1M560 185.5h3M297 186.5h1M304 186.5h1M355 186.5h1M358 186.5h3M362 186.5h1M371 186.5h1M376 186.5h1M389 186.5h3M394 186.5h3M398 186.5h2M401 186.5h8M410 186.5h3M415 186.5h3M422 186.5h2M463 186.5h1M466 186.5h1M483 186.5h1M485 186.5h13M499 186.5h2M504 186.5h1M506 186.5h2M511 186.5h2M516 186.5h4M521 186.5h5M534 186.5h1M543 186.5h1M549 186.5h1M553 186.5h3M557 186.5h6M327 187.5h2M355 187.5h1M357 187.5h1M360 187.5h4M365 187.5h2M373 187.5h1M375 187.5h1M384 187.5h1M393 187.5h5M399 187.5h1M401 187.5h1M403 187.5h1M405 187.5h6M412 187.5h1M417 187.5h1M419 187.5h2M422 187.5h1M464 187.5h1M466 187.5h1M486 187.5h9M496 187.5h2M500 187.5h1M511 187.5h1M520 187.5h3M524 187.5h1M533 187.5h1M549 187.5h14M357 188.5h5M367 188.5h1M369 188.5h1M394 188.5h1M396 188.5h3M403 188.5h2M406 188.5h1M411 188.5h3M485 188.5h1M488 188.5h3M492 188.5h5M498 188.5h3M506 188.5h2M511 188.5h1M522 188.5h1M530 188.5h1M533 188.5h4M543 188.5h1M548 188.5h16M357 189.5h2M360 189.5h3M365 189.5h2M375 189.5h1M384 189.5h5M390 189.5h1M395 189.5h3M399 189.5h2M402 189.5h1M407 189.5h2M410 189.5h3M421 189.5h2M425 189.5h1M486 189.5h4M491 189.5h6M498 189.5h4M505 189.5h1M509 189.5h3M517 189.5h1M534 189.5h1M547 189.5h1M549 189.5h5M555 189.5h2M558 189.5h7M358 190.5h6M365 190.5h3M374 190.5h2M381 190.5h1M383 190.5h5M395 190.5h1M397 190.5h5M406 190.5h1M408 190.5h1M410 190.5h3M416 190.5h1M418 190.5h1M421 190.5h1M483 190.5h2M486 190.5h1M490 190.5h1M493 190.5h1M496 190.5h1M498 190.5h1M513 190.5h3M537 190.5h1M540 190.5h1M546 190.5h1M549 190.5h8M560 190.5h5M347 191.5h1M349 191.5h1M357 191.5h1M362 191.5h3M366 191.5h1M384 191.5h4M390 191.5h1M393 191.5h1M395 191.5h1M397 191.5h6M408 191.5h3M415 191.5h1M417 191.5h3M422 191.5h1M424 191.5h2M470 191.5h1M484 191.5h1M486 191.5h1M490 191.5h1M496 191.5h1M498 191.5h1M506 191.5h1M509 191.5h1M511 191.5h2M514 191.5h1M517 191.5h1M536 191.5h1M538 191.5h1M548 191.5h9M558 191.5h1M561 191.5h3M349 192.5h1M352 192.5h1M359 192.5h1M364 192.5h1M366 192.5h1M384 192.5h1M386 192.5h3M394 192.5h1M396 192.5h8M405 192.5h1M408 192.5h3M412 192.5h1M415 192.5h1M425 192.5h1M485 192.5h2M488 192.5h1M490 192.5h4M497 192.5h2M513 192.5h1M540 192.5h2M551 192.5h6M558 192.5h1M561 192.5h3M345 193.5h2M348 193.5h1M352 193.5h1M363 193.5h4M384 193.5h4M390 193.5h2M396 193.5h10M418 193.5h1M420 193.5h1M467 193.5h1M484 193.5h2M489 193.5h1M492 193.5h2M500 193.5h1M540 193.5h2M543 193.5h1M550 193.5h1M552 193.5h6M559 193.5h1M562 193.5h2M346 194.5h1M349 194.5h1M365 194.5h1M368 194.5h1M384 194.5h1M397 194.5h8M406 194.5h2M415 194.5h1M417 194.5h1M483 194.5h3M488 194.5h5M494 194.5h1M501 194.5h1M512 194.5h1M514 194.5h1M539 194.5h1M544 194.5h3M551 194.5h7M559 194.5h2M340 195.5h1M346 195.5h1M349 195.5h1M352 195.5h4M361 195.5h1M364 195.5h3M372 195.5h1M376 195.5h1M378 195.5h1M393 195.5h1M397 195.5h7M417 195.5h1M424 195.5h1M426 195.5h1M484 195.5h1M486 195.5h1M489 195.5h3M493 195.5h2M499 195.5h2M502 195.5h1M513 195.5h1M539 195.5h1M541 195.5h1M544 195.5h1M553 195.5h1M556 195.5h3M561 195.5h2M347 196.5h1M352 196.5h1M354 196.5h1M358 196.5h1M362 196.5h2M365 196.5h1M375 196.5h1M377 196.5h1M389 196.5h5M398 196.5h2M410 196.5h2M414 196.5h1M417 196.5h1M419 196.5h1M421 196.5h1M423 196.5h2M485 196.5h2M489 196.5h1M492 196.5h2M496 196.5h2M503 196.5h1M505 196.5h1M515 196.5h1M537 196.5h1M541 196.5h1M543 196.5h2M547 196.5h1M550 196.5h6M559 196.5h1M339 197.5h1M353 197.5h2M362 197.5h2M365 197.5h1M370 197.5h3M376 197.5h3M385 197.5h1M388 197.5h2M395 197.5h1M398 197.5h1M409 197.5h1M417 197.5h1M488 197.5h4M504 197.5h1M514 197.5h1M532 197.5h2M537 197.5h1M539 197.5h1M552 197.5h3M556 197.5h1M559 197.5h1M332 198.5h1M336 198.5h1M340 198.5h1M349 198.5h1M352 198.5h1M355 198.5h1M357 198.5h1M362 198.5h2M365 198.5h1M367 198.5h1M370 198.5h2M376 198.5h2M380 198.5h4M388 198.5h5M394 198.5h2M411 198.5h2M415 198.5h1M419 198.5h1M484 198.5h1M488 198.5h5M494 198.5h1M497 198.5h2M500 198.5h1M539 198.5h1M545 198.5h1M551 198.5h1M560 198.5h1M337 199.5h1M345 199.5h1M352 199.5h1M354 199.5h1M356 199.5h3M360 199.5h1M364 199.5h1M374 199.5h1M376 199.5h1M378 199.5h8M387 199.5h3M392 199.5h5M398 199.5h2M401 199.5h1M403 199.5h2M415 199.5h1M421 199.5h1M488 199.5h9M498 199.5h2M540 199.5h1M560 199.5h1M332 200.5h1M334 200.5h2M340 200.5h5M350 200.5h1M354 200.5h6M362 200.5h3M374 200.5h2M377 200.5h6M384 200.5h1M393 200.5h1M397 200.5h2M400 200.5h2M410 200.5h2M414 200.5h3M487 200.5h1M489 200.5h2M493 200.5h1M496 200.5h1M498 200.5h1M503 200.5h1M523 200.5h1M539 200.5h2M543 200.5h3M339 201.5h1M344 201.5h1M355 201.5h1M358 201.5h1M361 201.5h1M365 201.5h1M367 201.5h1M374 201.5h3M380 201.5h3M393 201.5h1M398 201.5h1M400 201.5h3M408 201.5h1M415 201.5h1M418 201.5h1M487 201.5h3M491 201.5h4M497 201.5h1M500 201.5h1M502 201.5h1M523 201.5h1M542 201.5h1M548 201.5h1M550 201.5h1M336 202.5h1M339 202.5h1M341 202.5h1M344 202.5h1M374 202.5h1M381 202.5h2M391 202.5h1M394 202.5h9M405 202.5h1M408 202.5h1M487 202.5h1M490 202.5h3M496 202.5h1M499 202.5h1M551 202.5h1M339 203.5h3M358 203.5h1M361 203.5h1M381 203.5h1M396 203.5h1M401 203.5h2M409 203.5h1M417 203.5h1M419 203.5h1M487 203.5h1M489 203.5h6M553 203.5h1M335 204.5h1M358 204.5h3M375 204.5h1M396 204.5h1M410 204.5h1M418 204.5h1M420 204.5h1M490 204.5h3M494 204.5h1M554 204.5h1M558 204.5h4M356 205.5h2M360 205.5h2M551 205.5h3M558 205.5h1M560 205.5h1M347 206.5h1M350 206.5h2M366 206.5h1M485 206.5h1M551 206.5h5M557 206.5h1M347 207.5h3M367 207.5h2M549 207.5h1M551 207.5h8M360 208.5h1M547 208.5h1M554 208.5h4M348 209.5h1M360 209.5h1M369 209.5h1M371 209.5h1M380 209.5h1M487 209.5h1M549 209.5h2M554 209.5h2M557 209.5h1M356 210.5h1M362 210.5h5M368 210.5h1M380 210.5h1M495 210.5h1M548 210.5h1M557 210.5h1M342 211.5h1M344 211.5h1M353 211.5h4M359 211.5h1M361 211.5h2M365 211.5h2M371 211.5h1M374 211.5h1M381 211.5h1M556 211.5h1M342 212.5h3M351 212.5h1M355 212.5h1M359 212.5h1M362 212.5h2M369 212.5h1M382 212.5h1M405 212.5h2M343 213.5h6M350 213.5h1M354 213.5h4M359 213.5h6M372 213.5h1M374 213.5h1M380 213.5h2M397 213.5h2M343 214.5h1M345 214.5h1M347 214.5h1M357 214.5h5M365 214.5h1M367 214.5h2M371 214.5h1M379 214.5h2M384 214.5h1M391 214.5h1M395 214.5h2M398 214.5h2M343 215.5h3M353 215.5h2M356 215.5h1M362 215.5h2M367 215.5h2M380 215.5h1M382 215.5h1M390 215.5h2M394 215.5h1M396 215.5h1M399 215.5h1M345 216.5h1M348 216.5h1M352 216.5h1M354 216.5h1M356 216.5h2M359 216.5h1M363 216.5h1M368 216.5h1M376 216.5h3M380 216.5h1M393 216.5h6M344 217.5h1M347 217.5h1M349 217.5h1M354 217.5h1M356 217.5h2M359 217.5h2M362 217.5h1M364 217.5h1M367 217.5h3M377 217.5h2M390 217.5h1M395 217.5h3M351 218.5h1M353 218.5h1M358 218.5h4M365 218.5h4M377 218.5h3M392 218.5h1M348 219.5h1M350 219.5h2M354 219.5h1M359 219.5h2M363 219.5h3M368 219.5h1M373 219.5h1M377 219.5h1M379 219.5h1M382 219.5h1M392 219.5h1M551 219.5h1M349 220.5h2M352 220.5h1M364 220.5h1M369 220.5h1M372 220.5h1M374 220.5h1M398 220.5h1M547 220.5h1M552 220.5h1M344 221.5h1M347 221.5h2M351 221.5h2M355 221.5h1M361 221.5h1M363 221.5h2M366 221.5h2M373 221.5h1M382 221.5h1M384 221.5h2M550 221.5h4M344 222.5h3M351 222.5h2M356 222.5h1M363 222.5h1M365 222.5h1M367 222.5h3M371 222.5h1M373 222.5h2M376 222.5h4M394 222.5h2M553 222.5h1M556 222.5h1M344 223.5h1M346 223.5h1M348 223.5h1M350 223.5h4M356 223.5h1M360 223.5h1M363 223.5h5M370 223.5h2M373 223.5h3M385 223.5h1M561 223.5h2M344 224.5h1M346 224.5h1M350 224.5h1M354 224.5h1M358 224.5h1M360 224.5h6M367 224.5h1M370 224.5h1M372 224.5h3M378 224.5h1M383 224.5h2M553 224.5h1M561 224.5h1M345 225.5h5M351 225.5h1M353 225.5h3M361 225.5h1M367 225.5h1M373 225.5h2M384 225.5h1M398 225.5h2M553 225.5h1M557 225.5h2M562 225.5h1M343 226.5h2M346 226.5h1M351 226.5h1M353 226.5h3M360 226.5h1M364 226.5h1M367 226.5h1M371 226.5h1M373 226.5h1M379 226.5h1M381 226.5h2M384 226.5h2M549 226.5h1M556 226.5h1M559 226.5h3M343 227.5h4M348 227.5h2M354 227.5h3M360 227.5h1M364 227.5h1M367 227.5h1M369 227.5h1M371 227.5h1M381 227.5h5M549 227.5h1M558 227.5h2M345 228.5h1M354 228.5h3M358 228.5h1M361 228.5h1M367 228.5h1M369 228.5h2M376 228.5h1M381 228.5h6M545 228.5h1M555 228.5h2M560 228.5h1M341 229.5h1M343 229.5h4M354 229.5h2M358 229.5h1M361 229.5h1M364 229.5h6M376 229.5h2M381 229.5h4M387 229.5h1M545 229.5h1M555 229.5h1M342 230.5h3M354 230.5h1M357 230.5h1M365 230.5h1M367 230.5h3M374 230.5h2M377 230.5h1M381 230.5h4M386 230.5h2M547 230.5h1M343 231.5h1M347 231.5h1M356 231.5h1M367 231.5h3M373 231.5h1M375 231.5h3M379 231.5h1M383 231.5h2M546 231.5h1M554 231.5h1M347 232.5h1M352 232.5h2M357 232.5h1M365 232.5h1M367 232.5h1M369 232.5h1M371 232.5h5M378 232.5h2M500 232.5h1M548 232.5h2M552 232.5h1M346 233.5h1M352 233.5h2M367 233.5h1M373 233.5h2M489 233.5h2M501 233.5h1M547 233.5h1M552 233.5h1M344 234.5h2M348 234.5h1M352 234.5h1M359 234.5h1M494 234.5h2M546 234.5h3M344 235.5h1M347 235.5h1M352 235.5h1M539 235.5h1M547 235.5h1M344 236.5h1M348 236.5h1M354 236.5h1M356 236.5h1M359 236.5h2M341 237.5h1M344 237.5h2M348 237.5h1M352 237.5h2M356 237.5h4M344 238.5h1M346 238.5h3M352 238.5h2M355 238.5h7M430 238.5h2M346 239.5h1M348 239.5h2M352 239.5h1M356 239.5h1M358 239.5h3M430 239.5h1M527 239.5h1M560 239.5h1M344 240.5h1M347 240.5h1M350 240.5h1M353 240.5h1M357 240.5h4M344 241.5h1M349 241.5h3M353 241.5h1M356 241.5h3M329 242.5h2M349 242.5h2M353 242.5h1M357 242.5h2M361 242.5h2M492 242.5h1M557 242.5h1M339 243.5h1M343 243.5h1M376 243.5h2M434 243.5h1M493 243.5h3M498 243.5h2M524 243.5h2M342 244.5h1M455 244.5h1M495 244.5h1M498 244.5h1M524 244.5h2M342 245.5h1M434 245.5h1M455 245.5h1M521 245.5h1M523 245.5h1M521 246.5h1M465 247.5h1M525 247.5h1M433 249.5h2M463 249.5h1M433 250.5h1M487 250.5h1M515 250.5h1M432 251.5h2M487 251.5h1M516 251.5h2M431 252.5h2M434 252.5h1M436 252.5h1M432 253.5h2M436 253.5h1M438 253.5h1M432 254.5h1M434 254.5h2M438 254.5h2M422 255.5h1M430 255.5h4M435 255.5h5M467 255.5h2M427 256.5h1M430 256.5h2M433 256.5h1M435 256.5h6M467 256.5h1M532 256.5h2M431 257.5h2M436 257.5h5M467 257.5h2M532 257.5h1M431 258.5h3M436 258.5h3M467 258.5h1M536 258.5h2M431 259.5h2M434 259.5h6M477 259.5h1M433 260.5h6M429 261.5h1M438 261.5h1M516 262.5h2M416 263.5h2M436 263.5h1M513 263.5h1M411 264.5h1M514 264.5h1M563 264.5h1M401 265.5h1M411 265.5h1M467 265.5h1M479 265.5h1M529 265.5h1M468 266.5h1M479 266.5h1M530 266.5h1M397 267.5h2M423 267.5h1M471 267.5h1M397 268.5h2M423 268.5h1M471 268.5h1M423 269.5h2M477 269.5h1M407 270.5h1M557 270.5h1M559 271.5h1M425 273.5h2M405 274.5h1M373 275.5h1M375 275.5h1M413 275.5h1M431 275.5h2M372 276.5h2M376 276.5h1M453 276.5h2M479 276.5h1M372 277.5h1M377 277.5h1M419 277.5h1M471 277.5h2M480 277.5h1M561 277.5h1M420 278.5h2M471 278.5h1M561 278.5h1M407 279.5h1M411 279.5h2M420 279.5h1M482 279.5h2M485 279.5h2M492 279.5h1M559 279.5h1M441 280.5h2M445 280.5h1M491 280.5h2M446 281.5h1M486 281.5h1M488 281.5h1M364 282.5h2M474 282.5h2M483 282.5h2M364 283.5h1M484 283.5h1M490 286.5h1M464 287.5h1M490 287.5h1M460 288.5h3M492 288.5h2M350 289.5h1M463 289.5h1M351 290.5h1M463 290.5h1M349 291.5h1M352 291.5h1M443 291.5h1M453 291.5h1M464 291.5h1M349 292.5h2M423 292.5h1M461 292.5h1M464 292.5h3M461 293.5h2M441 294.5h1M450 294.5h1M462 294.5h1M464 294.5h1M473 294.5h1M445 295.5h2M450 295.5h1M461 295.5h1M469 296.5h2M490 309.5h2M460 348.5h2M492 370.5h1M424 406.5h1M423 408.5h1M424 409.5h1" stroke="#6666ff" stroke-width="1" fill="none"/><path d="M199 67.5h1M199 68.5h1M197 69.5h1M196 70.5h1M198 70.5h1M200 70.5h1M212 78.5h1M215 78.5h1M223 78.5h1M226 78.5h2M230 78.5h1M203 79.5h2M212 79.5h1M380 79.5h1M357 80.5h1M362 80.5h1M371 80.5h1M373 80.5h1M375 80.5h2M378 80.5h1M439 80.5h1M354 81.5h1M362 81.5h4M369 81.5h1M376 81.5h1M382 81.5h2M385 81.5h2M362 82.5h1M364 82.5h2M370 82.5h1M377 82.5h1M443 82.5h1M448 82.5h1M242 83.5h1M360 83.5h1M364 83.5h1M366 83.5h1M368 83.5h1M374 83.5h1M378 83.5h1M380 83.5h1M387 83.5h1M398 83.5h1M443 83.5h1M445 83.5h1M246 84.5h1M366 84.5h1M369 84.5h3M374 84.5h2M444 84.5h1M446 84.5h1M449 84.5h1M358 85.5h1M365 85.5h1M371 85.5h1M380 85.5h1M388 85.5h1M392 85.5h1M443 85.5h1M445 85.5h2M448 85.5h2M703 85.5h1M241 86.5h1M275 86.5h1M365 86.5h1M374 86.5h3M379 86.5h3M387 86.5h1M698 86.5h5M242 87.5h1M244 87.5h1M246 87.5h2M275 87.5h2M363 87.5h1M379 87.5h1M383 87.5h1M386 87.5h2M396 87.5h1M444 87.5h1M450 87.5h1M694 87.5h4M699 87.5h1M701 87.5h2M246 88.5h1M250 88.5h1M359 88.5h1M367 88.5h1M376 88.5h2M380 88.5h1M383 88.5h1M390 88.5h1M691 88.5h2M694 88.5h8M241 89.5h1M247 89.5h1M249 89.5h2M358 89.5h1M360 89.5h5M370 89.5h1M374 89.5h2M377 89.5h1M379 89.5h1M385 89.5h3M391 89.5h1M395 89.5h1M400 89.5h1M445 89.5h1M451 89.5h1M683 89.5h1M686 89.5h4M691 89.5h1M693 89.5h4M699 89.5h4M241 90.5h1M364 90.5h2M368 90.5h1M370 90.5h1M377 90.5h5M387 90.5h1M397 90.5h1M399 90.5h1M446 90.5h1M678 90.5h2M682 90.5h2M688 90.5h3M692 90.5h4M697 90.5h1M699 90.5h3M243 91.5h1M363 91.5h1M365 91.5h1M369 91.5h2M373 91.5h1M376 91.5h1M386 91.5h1M397 91.5h1M678 91.5h2M681 91.5h3M689 91.5h4M695 91.5h6M359 92.5h1M384 92.5h1M391 92.5h1M394 92.5h1M675 92.5h1M681 92.5h3M688 92.5h2M691 92.5h2M695 92.5h4M362 93.5h1M374 93.5h2M382 93.5h3M389 93.5h1M395 93.5h1M663 93.5h2M670 93.5h2M675 93.5h1M681 93.5h4M687 93.5h1M689 93.5h1M695 93.5h1M701 93.5h1M737 93.5h3M367 94.5h1M369 94.5h1M372 94.5h1M382 94.5h1M668 94.5h1M674 94.5h1M680 94.5h10M691 94.5h1M696 94.5h1M702 94.5h1M735 94.5h1M738 94.5h1M219 95.5h1M222 95.5h1M360 95.5h2M387 95.5h1M663 95.5h1M669 95.5h2M675 95.5h3M679 95.5h8M692 95.5h1M735 95.5h1M227 96.5h1M235 96.5h1M668 96.5h1M675 96.5h1M679 96.5h3M683 96.5h6M212 97.5h2M216 97.5h1M218 97.5h1M220 97.5h1M223 97.5h1M226 97.5h1M228 97.5h1M230 97.5h1M233 97.5h2M239 97.5h1M654 97.5h2M665 97.5h1M668 97.5h1M676 97.5h1M679 97.5h5M685 97.5h1M687 97.5h1M689 97.5h3M693 97.5h1M212 98.5h1M225 98.5h2M228 98.5h2M232 98.5h2M654 98.5h2M665 98.5h1M667 98.5h1M675 98.5h1M678 98.5h1M681 98.5h2M684 98.5h4M689 98.5h2M223 99.5h1M225 99.5h4M657 99.5h1M659 99.5h2M674 99.5h2M681 99.5h4M688 99.5h1M691 99.5h1M700 99.5h1M220 100.5h1M226 100.5h1M230 100.5h1M237 100.5h2M634 100.5h2M638 100.5h1M642 100.5h3M646 100.5h1M659 100.5h3M682 100.5h4M699 100.5h1M702 100.5h3M221 101.5h1M226 101.5h1M234 101.5h1M237 101.5h2M620 101.5h9M634 101.5h1M636 101.5h1M639 101.5h1M641 101.5h3M655 101.5h3M659 101.5h5M666 101.5h1M668 101.5h2M677 101.5h2M683 101.5h2M686 101.5h3M695 101.5h2M702 101.5h5M220 102.5h1M225 102.5h1M616 102.5h13M633 102.5h1M635 102.5h1M639 102.5h1M641 102.5h3M645 102.5h2M652 102.5h1M658 102.5h1M660 102.5h3M666 102.5h2M672 102.5h1M675 102.5h1M677 102.5h3M683 102.5h2M687 102.5h1M692 102.5h2M695 102.5h1M697 102.5h4M704 102.5h3M220 103.5h1M611 103.5h1M613 103.5h5M619 103.5h8M631 103.5h1M635 103.5h3M639 103.5h1M641 103.5h3M646 103.5h1M652 103.5h1M657 103.5h1M660 103.5h1M662 103.5h1M666 103.5h2M670 103.5h1M675 103.5h1M677 103.5h2M681 103.5h1M684 103.5h1M686 103.5h1M689 103.5h1M692 103.5h8M702 103.5h3M480 104.5h1M606 104.5h7M614 104.5h10M625 104.5h2M636 104.5h1M638 104.5h1M640 104.5h3M644 104.5h2M652 104.5h1M656 104.5h1M658 104.5h1M662 104.5h4M670 104.5h1M676 104.5h2M690 104.5h17M600 105.5h5M608 105.5h17M626 105.5h1M629 105.5h1M631 105.5h2M636 105.5h3M640 105.5h6M653 105.5h1M662 105.5h4M669 105.5h1M675 105.5h4M688 105.5h2M691 105.5h4M697 105.5h10M477 106.5h1M484 106.5h1M575 106.5h1M591 106.5h13M606 106.5h4M611 106.5h14M630 106.5h4M637 106.5h3M644 106.5h2M658 106.5h1M663 106.5h3M676 106.5h2M679 106.5h1M681 106.5h2M688 106.5h2M691 106.5h1M693 106.5h2M696 106.5h10M400 107.5h1M478 107.5h1M589 107.5h3M593 107.5h12M606 107.5h18M625 107.5h4M630 107.5h1M633 107.5h1M636 107.5h5M645 107.5h1M660 107.5h4M667 107.5h3M674 107.5h1M681 107.5h3M686 107.5h1M688 107.5h1M690 107.5h2M693 107.5h1M698 107.5h1M702 107.5h6M400 108.5h1M475 108.5h1M478 108.5h1M569 108.5h1M583 108.5h1M588 108.5h4M593 108.5h6M600 108.5h5M606 108.5h3M610 108.5h6M617 108.5h3M621 108.5h10M638 108.5h3M642 108.5h3M646 108.5h1M654 108.5h1M676 108.5h1M681 108.5h5M689 108.5h8M699 108.5h1M702 108.5h4M479 109.5h2M482 109.5h1M552 109.5h1M554 109.5h2M564 109.5h1M570 109.5h1M577 109.5h1M582 109.5h1M587 109.5h5M593 109.5h12M606 109.5h12M619 109.5h6M626 109.5h7M636 109.5h1M640 109.5h1M643 109.5h4M669 109.5h1M680 109.5h7M690 109.5h2M693 109.5h3M698 109.5h1M703 109.5h4M478 110.5h4M538 110.5h1M550 110.5h3M567 110.5h1M582 110.5h1M587 110.5h4M592 110.5h20M613 110.5h3M617 110.5h1M620 110.5h1M623 110.5h8M633 110.5h1M635 110.5h2M641 110.5h3M645 110.5h1M681 110.5h2M686 110.5h2M700 110.5h1M704 110.5h1M446 111.5h1M478 111.5h1M480 111.5h4M563 111.5h1M569 111.5h1M585 111.5h11M597 111.5h2M602 111.5h5M608 111.5h1M610 111.5h7M622 111.5h3M628 111.5h2M631 111.5h2M637 111.5h1M681 111.5h3M685 111.5h1M702 111.5h2M705 111.5h2M475 112.5h1M477 112.5h3M481 112.5h2M540 112.5h1M553 112.5h1M581 112.5h1M586 112.5h22M610 112.5h6M622 112.5h3M627 112.5h4M677 112.5h1M679 112.5h2M683 112.5h3M698 112.5h1M702 112.5h2M439 113.5h1M461 113.5h1M479 113.5h2M483 113.5h2M535 113.5h2M538 113.5h1M546 113.5h1M579 113.5h1M582 113.5h1M586 113.5h18M607 113.5h1M609 113.5h6M616 113.5h3M621 113.5h6M677 113.5h5M684 113.5h1M688 113.5h1M697 113.5h1M701 113.5h1M704 113.5h1M460 114.5h1M464 114.5h1M479 114.5h1M485 114.5h1M533 114.5h1M541 114.5h1M557 114.5h1M572 114.5h1M586 114.5h1M588 114.5h14M604 114.5h1M607 114.5h1M611 114.5h6M618 114.5h5M677 114.5h5M684 114.5h3M702 114.5h1M450 115.5h1M454 115.5h1M459 115.5h2M476 115.5h1M479 115.5h1M538 115.5h3M557 115.5h1M559 115.5h1M577 115.5h1M588 115.5h1M590 115.5h11M602 115.5h1M604 115.5h10M615 115.5h4M676 115.5h6M684 115.5h2M688 115.5h3M239 116.5h1M448 116.5h1M454 116.5h2M460 116.5h1M478 116.5h2M536 116.5h1M538 116.5h3M568 116.5h1M587 116.5h2M590 116.5h9M600 116.5h1M602 116.5h12M680 116.5h2M684 116.5h2M687 116.5h1M689 116.5h1M695 116.5h1M237 117.5h2M240 117.5h1M444 117.5h1M447 117.5h1M461 117.5h1M465 117.5h1M478 117.5h1M534 117.5h2M538 117.5h1M567 117.5h1M577 117.5h1M587 117.5h8M596 117.5h13M680 117.5h1M686 117.5h1M688 117.5h1M237 118.5h3M452 118.5h2M464 118.5h2M569 118.5h1M574 118.5h1M586 118.5h8M596 118.5h7M677 118.5h1M695 118.5h1M451 119.5h1M456 119.5h3M530 119.5h3M567 119.5h1M574 119.5h1M583 119.5h1M588 119.5h10M237 120.5h2M445 120.5h1M451 120.5h2M456 120.5h4M461 120.5h1M529 120.5h1M531 120.5h1M538 120.5h1M568 120.5h2M573 120.5h1M587 120.5h3M591 120.5h2M453 121.5h2M457 121.5h3M532 121.5h2M575 121.5h1M577 121.5h1M584 121.5h1M692 121.5h1M232 122.5h1M448 122.5h1M451 122.5h1M458 122.5h1M530 122.5h4M535 122.5h1M457 123.5h1M530 123.5h1M533 123.5h1M447 124.5h1M530 124.5h4M553 125.5h1M557 125.5h1M560 125.5h1M461 126.5h1M503 126.5h1M526 126.5h1M532 126.5h2M553 126.5h1M555 126.5h1M557 126.5h1M559 126.5h1M345 127.5h1M491 127.5h1M553 127.5h4M345 128.5h2M498 128.5h1M533 128.5h1M554 128.5h2M557 128.5h1M560 128.5h1M345 129.5h2M493 129.5h1M523 129.5h1M531 129.5h2M552 129.5h1M555 129.5h2M558 129.5h1M562 129.5h1M316 130.5h1M318 130.5h1M502 130.5h1M554 130.5h3M558 130.5h1M560 130.5h2M315 131.5h1M318 131.5h1M320 131.5h1M531 131.5h1M542 131.5h1M555 131.5h1M559 131.5h2M314 132.5h1M316 132.5h4M494 132.5h1M502 132.5h1M531 132.5h1M558 132.5h3M315 133.5h1M490 133.5h1M493 133.5h2M499 133.5h1M530 133.5h3M560 133.5h1M300 134.5h2M315 134.5h1M317 134.5h2M489 134.5h3M493 134.5h2M496 134.5h1M498 134.5h1M522 134.5h1M531 134.5h2M550 134.5h1M556 134.5h1M562 134.5h1M319 135.5h1M497 135.5h3M503 135.5h1M523 135.5h1M531 135.5h1M540 135.5h1M318 136.5h1M496 136.5h1M498 136.5h1M521 136.5h1M532 136.5h1M496 137.5h2M499 137.5h2M521 137.5h1M535 137.5h1M497 138.5h1M499 138.5h2M559 138.5h2M559 139.5h1M309 140.5h2M555 140.5h2M307 141.5h1M496 141.5h1M553 141.5h1M556 141.5h1M477 142.5h1M494 142.5h3M553 142.5h1M495 143.5h2M499 143.5h1M559 143.5h1M563 143.5h2M496 144.5h1M499 144.5h1M556 144.5h3M494 145.5h1M524 145.5h1M556 145.5h3M495 146.5h1M512 146.5h1M525 146.5h1M500 147.5h2M512 147.5h1M515 147.5h1M525 147.5h1M497 148.5h1M503 148.5h1M496 149.5h3M505 149.5h1M510 149.5h3M514 149.5h1M493 150.5h1M496 150.5h4M505 150.5h1M509 150.5h6M495 151.5h3M499 151.5h2M508 151.5h1M533 151.5h1M494 152.5h1M496 152.5h2M510 152.5h1M495 153.5h1M510 153.5h1M560 153.5h1M506 154.5h1M513 154.5h1M558 154.5h1M563 154.5h1M496 155.5h1M500 155.5h1M491 156.5h1M499 156.5h1M514 156.5h1M532 156.5h1M490 157.5h1M492 157.5h1M495 157.5h1M498 157.5h1M491 158.5h2M494 158.5h2M507 158.5h2M534 158.5h1M490 159.5h1M492 159.5h2M530 159.5h1M490 160.5h1M532 160.5h1M490 161.5h2M530 161.5h1M534 161.5h1M527 162.5h1M531 162.5h2M493 163.5h1M533 163.5h1M532 164.5h1M490 165.5h1M492 165.5h1M488 166.5h1M493 166.5h1M493 167.5h1M493 168.5h1M494 169.5h2M490 170.5h1M494 170.5h1M401 215.5h2M392 216.5h1M387 223.5h1M389 223.5h1M385 229.5h2M385 230.5h1M493 534.5h2M496 534.5h1M498 534.5h1M502 534.5h1M493 535.5h1M493 554.5h1M494 555.5h1M512 578.5h1" stroke="#000" stroke-width="1" fill="none"/><path d="M327 114.5h1M179 120.5h1M247 154.5h1M250 260.5h1M246 269.5h1M343 530.5h1" stroke="#fff" stroke-width="1" fill="none"/><path d="M264.7 329.3L266.2 331.5L268.6 331L267 335L264.5 337.6L262.2 337.4L262.2 333.4L264 332.4Z" fill="#000"/><path d="M264.2 352H267V358H265.2L264.2 356Z" fill="#000"/>
<path d="M427.4 79.6 L427.4 141.3 L450 142.7 L471.3 143 L473.3 144.3 L482.3 144.7 L482.3 161.3 L564 161.3M315.3 80.7 L318 87.3 L320.7 92.4 L335.5 93.7 L352.7 104.2 L354.7 104.3 L364.7 99.3 L370 97.2 L427.4 96.7M335.6 93.7 L335.7 108 L337.7 109.3 L337.7 117.3 L333.7 121.3 L333.7 131.3 L336.3 134 L336.7 138 L333.7 139.3 L332 140.7 L328.7 146 L328.7 151.3 L332 158 L334.7 160.7 L332.4 162 L332.4 168M250.5 81.5 L251.3 90 L252.7 96 L256.7 104.7 L258 116.7 L258.7 130 L259.3 140.7 L262.7 146 L262.7 152.7 L260.7 156.7 L263.3 162 L265.6 165.6 L265.6 172.2 L271.6 172.2 L271.6 167.5 L268.9 167.3 L268.9 164.5 L290 163.3 L294 162 L302 162.7 L304 164 L318 165 L332.4 168 L336.7 169.3 L343.3 170.7 L349.3 172.3 L356.7 173 L363.3 173.3 L366 174.7 L368.3 175.3M320.7 92.4 L303.3 108.7 L304.7 110.7 L311.3 113.3 L314 116 L314.7 126 L316 134 L314 139.3 L314 144.7 L316 148.7 L314 152.7 L317.3 156.7 L304.7 161.3 L304 164M368.3 175.3 L371.3 174 L376.7 171.3 L380.7 168.7 L386 163.3 L387.3 160.7 L390 160.2 L392 161 L394.7 160.7 L395.7 164.7 L398 165.3 L398.3 163.3 L400.3 163.3 L400.3 165.3 L398.3 166 L398.3 169.3 L400 170.7 L403.3 171 L406 174 L410.7 174.7 L413.3 176.3 L417.3 176.3 L419.3 175.3 L421.3 177.3 L424.3 175.7 L422.7 172.7 L422.7 169 L425.3 168 L425.3 166.7 L428 166.3 L428.5 154.3 L431.3 155 L431.7 152.7 L435.7 152 L436 142M368.3 175.3 L368.3 186.7 L367.3 188.7 L367.3 197.3 L361.3 199.3 L360.4 203.3 L350 208 L350 214.7 L343.3 216.7 L335.3 218.7 L330 222.7 L323.3 221.6 L316.7 224.4 L307.8 221.6M225.6 250 L234.4 245.6 L245.6 242.9 L261.1 243.3 L274.4 245.6 L285.6 241.1 L296.7 232.2 L307.8 221.6M316.7 224.4 L317.8 230 L325.6 236.7 L330 238.7 L336.7 242.7 L343.3 246 L350 248.7 L354 252 L359.3 252.7 L360 258.7 L361.6 262 L356 268 L354.7 276.7 L357.3 286 L357.3 291.3 L352 300 L354.7 307.3M354.7 307.3 L366 304.7 L369.3 300.7 L371.3 304.7 L376.7 303.3 L386 300.7 L392.7 298.7 L394 295.3 L402 292.7 L402.7 288.7 L410 283.3 L414 284 L423.3 279.3 L432.7 277.3M564 214.7 L556.7 214.7 L554 216.3 L547.3 216 L535.3 215.3 L532.7 213.3 L519.3 212 L506 210.7 L490 210.3 L486 213.3 L476.7 216 L468.7 220.7 L463.3 222.7 L458 228.7 L453.3 234.7 L452.4 239.3 L452 246.7 L450 247 L443 246.2 L443 251 L444.3 255.4 L438 255 L435.5 258.3 L437.3 264.7 L436.7 272.7 L432.7 277.3M354.7 307.3 L351.1 312.2 L344.4 316.7 L338.9 316.7 L334.4 321.1 L338.9 323.3 L338.9 327.8 L332.2 330 L330 337.8 L333.3 344.4 L327.8 347.8 L327.8 353.3 L324.4 358.9 L328.4 362.2 L327.8 372.2M266.7 360.4 L288.9 362.2 L306.7 366.7 L327.8 372.2 L323.3 373.3 L323.3 378.9 L331.1 380.4 L340 376.7 L346.7 375.6 L347.8 378.9 L342.2 380.4 L347.8 382.2 L347.8 385.6 L352.2 382.2 L351.1 378.9 L358.9 376.7 L358.9 373.3 L351.1 373.3 L350 368.9 L353.3 363.3 L355.6 366.7 L362.2 361.1 L358.9 356.7 L362.2 351.1 L364.4 345.6 L373.3 349.3 L382.2 343.3 L388.9 344 L391.1 350 L403.3 350 L398.9 355.6 L401.1 360 L402.2 366.7 L403.3 364.9 L418.9 362.2 L426.7 365.6 L437.8 362.2 L446.7 357.8M432.7 277.3 L433.3 282 L430 291.3 L428.7 296 L425.3 296.7 L426 302 L431.3 307.3 L434.4 311.6 L437.8 314.4 L439.3 324.4 L441.1 334.4 L445.6 334.4 L443.3 338.9 L447.3 342.2 L442.9 345.6 L448.9 350 L449.6 354.4 L446.7 357.8M446.7 357.8 L450 365.6 L454.4 367.8 L458.9 370.4 L465.6 368.9 L472.2 367.8 L474.4 369.6 L480 368.9 L482.2 366.2 L484.4 366.7 L484.9 375.1 L518.2 375.1M284 427.3 L325.6 427.3 L327.8 437.8 L330 453.3 L335.6 455.1 L345.6 466.2 L351.1 466.2 L350 460 L348.2 454.4 L353.3 452.2 L354.4 455.6 L357.8 454.4 L360 450.7 L361.1 453.3 L372.2 455.6 L378.9 457.3 L381.1 460.4 L388.9 457.8 L395.6 461.1 L396.7 455.6 L401.1 452.2 L408.9 453.3 L420 452.7 L428.9 450.7 L435.6 447.8 L453.3 447.8 L453.3 451.1 L473.3 451.8 L482.2 449.6 L487.8 455.1 L492.2 453.3 L506.7 456.7 L513.3 454.4 L517.8 455.1" fill="none" stroke="#000" stroke-width="1" stroke-linejoin="round"/>
<path d="M141.6 73.3 L146.7 71.8 L154.4 68.4 L158.9 68.9 L163.3 72.2 L172.2 71.6 L176.7 73.3 L183.3 70.4 L191.1 65.1 L197.8 60.7 L207.8 60.4 L215.6 60.4 L220 62.2 L223.3 67.3 L230 72.9 L238.9 77.8 L243.3 81.1 L248.9 81.1 L254.4 79.6 L447 79.6 L450 83.5 L452.7 88 L456.7 92.7 L461.3 95.3 L465.3 97.7 L468.7 99.7 L478 99.7 L479.3 98.7 L481.3 99 L487.3 100 L491.3 101.7 L499.3 101.3 L503.3 101 L506.7 103.7 L510 101.7 L516.7 102 L517.3 103 L523.3 103.3 L526 101.7 L534.7 101.7 L538.7 103.7 L542 106.7 L549.3 107 L552.7 108 L556 109.7 L558 108 L562.7 105.7 L567.3 105 L570 105 L574.7 105 L576.7 106.7 L582 108.3 L586 108.7 L591.3 106.7 L600.7 105.3 L611.3 103 L620.7 101 L630 100 L646.7 96 L662 93 L676.7 90.3 L690 88 L698.3 86 L709.2 83.9 L723.3 83.9 L726.7 86.4 L731.7 85.2 L741.7 86 L748.3 88.9 L752.5 94.2 L757.3 97.2 L758.3 97.8 L753.3 99 L745 99 L740 100.7 L735 103.2 L730 107.3 L727.5 110.7 L724.2 110.7 L720.8 105.7 L716.7 104.8 L715 108.2 L709.2 109.8 L703.3 114 L696.7 118.2 L692.5 124.8 L690 125.5 L686 129 L681.7 129 L681 121.3 L674.3 116.6 L670.3 111 L669.7 108 L668 107.7 L658 107.7 L650 109 L640 111.7 L630 112.7 L618.7 115.3 L608 117.3 L602.7 118.3 L592 120 L586.7 121.7 L564 121.9 L564 290 L518.2 290 L518 583.3 L511.1 584.9 L504.4 586.7 L498.9 587.8 L495.6 593.3 L491.1 597.1 L484.4 597.8 L484 602.2 L485.6 604.9 L481.1 607.3 L476.7 607.8 L472.2 603.3 L464.4 602.2 L457.8 601.8 L451.1 603.3 L444.4 604.4 L435.6 604.9 L428.9 603.3 L424.4 599.6 L417.8 597.8 L408.9 597.8 L407.8 595.6 L401.1 596.7 L400 590 L397.8 585.6 L401.1 583.3 L398.9 577.8 L396.7 573.8 L390.4 573.3 L387.8 566.7 L383.3 565.6 L376.7 567.8 L373.3 573.3 L370 576.7 L371.8 580 L370 585.6 L361.1 587.8 L355.6 591.6 L338.9 576.7 L322.2 563.3 L321.1 558.9 L315.6 553.3 L314.4 547.8 L310 541.1 L304.4 533.3 L302.7 526.7 L301.1 516.7 L296.7 511.1 L294.4 503.3 L297.8 498.9 L295.6 492.2 L288.2 486.7 L287.8 478.9 L288.9 473.3 L286.7 466.7 L283.3 461.1 L284.4 453.3 L283.3 448.9 L281.1 441.1 L282.2 435.6 L284.4 430 L282.2 426.7 L281.1 420 L277.8 414.4 L272.2 406.7 L271.1 398.9 L267.8 391.1 L265.6 382.2 L267.8 373.3 L268 363.3 L266.3 360 L266 356 L267 352.7 L267 347.3 L266 346 L264 338.7 L264.5 335.5 L268.6 331.3 L269 320 L268 315.3 L264.7 310 L264.4 305.6 L258.9 296.7 L251.1 287.8 L243.3 280 L240 271.1 L235.6 263.3 L228.9 253.3 L224.4 248.9 L218.9 238.9 L215.6 227.8 L211.1 218.9 L207.8 207.8 L202.2 202.2 L196.7 190 L191.1 180 L185.6 167.8 L180 156.7 L174.4 150 L168.9 141.1 L161.1 134.4 L154.4 127.8 L152.2 121.1 L146.7 112.2 L144.4 103.3 L142.2 90Z" fill="none" stroke="#000" stroke-width="2" stroke-linejoin="round"/>
<rect x="470" y="671" width="28" height="14" fill="#33cc00"/><rect x="470" y="688" width="28" height="14" fill="#99e619"/><rect x="470" y="705" width="28" height="14" fill="#ffff33"/><rect x="470" y="722" width="28" height="14" fill="#ffb326"/><rect x="470" y="739" width="28" height="14" fill="#ff7319"/><rect x="470" y="756" width="28" height="14" fill="#ff2a0a"/><rect x="470" y="773" width="28" height="14" fill="#bf0000"/><rect x="470" y="801" width="28" height="14" fill="#6666ff"/><rect x="470" y="818" width="28" height="14" fill="#000000"/><rect x="470" y="835" width="28" height="14" fill="#666666"/><rect x="470" y="852" width="28" height="14" fill="#cccccc"/>
<rect x="672.5" y="801.5" width="215" height="2" fill="#111"/>
</g>
<g transform="translate(701.25 759.4)" font-family="'Liberation Sans',Arial,sans-serif" font-weight="bold" fill="#111">
<circle r="26.8" fill="#fff" stroke="#111" stroke-width="3"/>
<g fill="none" stroke="#111" stroke-width="1.75" stroke-linecap="butt">
<path d="M-15.9 -19.6L-3.4 6.2"/>
<path d="M-13.2 -20.9L-1.6 3"/>
<path d="M-10.6 -21.9L-0.9 -1.8"/>
<path d="M15.3 -19.6L2.8 6.2"/>
<path d="M12.6 -20.9L1 3"/>
<path d="M10 -21.9L0.3 -1.8"/>
</g>
<g transform="translate(0 0.9)"><path d="M-0.3 -11.2C1 -9 1.9 -7.6 1.9 -6.2A2.2 2.3 0 0 1 -2.5 -6.2C-2.5 -7.6 -1.6 -9 -0.3 -11.2Z"/>
<path d="M-4 -4.2L-0.3 -1L3.4 -4.2L4.6 1.2L-0.3 5L-5.2 1.2Z"/>
<path d="M-5.6 3L-0.3 7L5 3L6.4 8.5Q6.3 13.6 -0.3 15.6Q-6.9 13.6 -7 8.5Z"/>
<path d="M-6.4 4.2L-0.3 8.8L5.8 4.2" fill="none" stroke="#fff" stroke-width="0.9"/>
<path d="M-4.6 -1.4L-0.3 1.9L4 -1.4" fill="none" stroke="#fff" stroke-width="0.8"/>
<path d="M-0.3 9V14.5" fill="none" stroke="#fff" stroke-width="0.7"/></g>
<rect x="-1.3" y="14" width="2" height="12.6"/>
<g stroke="#111" stroke-width="0.7" stroke-linejoin="round">
<text x="-18.4" y="1.6" font-size="15.8" text-anchor="middle" transform="translate(-18.4 0) scale(0.84 1) translate(18.4 0)">F</text>
<text x="-0.3" y="-11.1" font-size="16.2" text-anchor="middle" transform="translate(-0.3 0) scale(0.84 1) translate(0.3 0)">A</text>
<text x="17.8" y="1.6" font-size="15.8" text-anchor="middle" transform="translate(17.8 0) scale(0.78 1) translate(-17.8 0)">O</text>
</g>
<path id="arcL" d="M-21.56 9.60A23.6 23.6 0 0 0 1.65 23.54" fill="none"/>
<path id="arcR" d="M4.50 23.17A23.6 23.6 0 0 0 23.51 -2.06" fill="none"/>
<g stroke="#111" stroke-width="0.25">
<text font-size="6.8" letter-spacing="1.45"><textPath href="#arcL">FIAT</textPath></text>
<text font-size="6.8" letter-spacing="1.0"><textPath href="#arcR">PANIS</textPath></text>
</g>
</g>
</svg>
<h1 class="t">Namibia</h1>
<div class="t info b" style="top:657.5px;letter-spacing:0.1px">Agricultural Stress Index (ASI)</div>
<div class="t info" style="top:687.5px">% of cropland area affected by severe drought</div>
<div class="t info" style="top:717.5px">per GAUL 2 region</div>
<div class="t info" style="top:747.5px">from    : start of SEASON 1</div>
<div class="t info" style="top:777.5px">to      : dekad 3 July 2025</div>
<div class="t info" style="top:837.5px">METOP-AVHRR</div>
<div class="t info" style="top:867.5px">WGS84, Geographic Lat/Lon</div>
<div class="t lh">ASI (%)</div>
<div class="t lab" style="left:509.4px;top:673.7px">&lt; 10</div><div class="t lab" style="left:509.4px;top:690.7px">10 - 25</div><div class="t lab" style="left:509.4px;top:707.7px">25 - 40</div><div class="t lab" style="left:509.4px;top:724.7px">40 - 55</div><div class="t lab" style="left:509.4px;top:741.7px">55 - 70</div><div class="t lab" style="left:509.4px;top:758.7px">70 - 85</div><div class="t lab" style="left:509.4px;top:775.7px">&gt;= 85</div><div class="t lab" style="left:509.4px;top:803.7px">off season</div><div class="t lab" style="left:509.4px;top:820.7px">no data</div><div class="t lab" style="left:509.4px;top:837.7px">no seasons</div><div class="t lab" style="left:509.4px;top:854.7px">no cropland</div>
<div class="t fao" style="top:735.2px;transform:scaleX(0.9115)">Food and Agriculture</div>
<div class="t fao" style="top:753px;transform:scaleX(0.9375)">Organization of the</div>
<div class="t fao" style="top:770.8px;transform:scaleX(0.931)">United Nations</div>
<div class="t giews" style="top:814px">Global Information and Early</div>
<div class="t giews" style="top:832.5px;transform:scaleX(0.925)">Warning System – GIEWS</div>
<div class="t disc" style="top:911.5px">Disclaimer: The boundaries and names shown and the designations used on this map do not imply the expression of any opinion whatsoever on the part of FAO</div>
<div class="t disc" style="top:924.8px;transform:scaleX(0.9845)">concerning the legal status of any country, territory, area or of its authorities, or concerning the delimitation of its frontiers and boundaries.</div>
</div>
</body>
</html>
